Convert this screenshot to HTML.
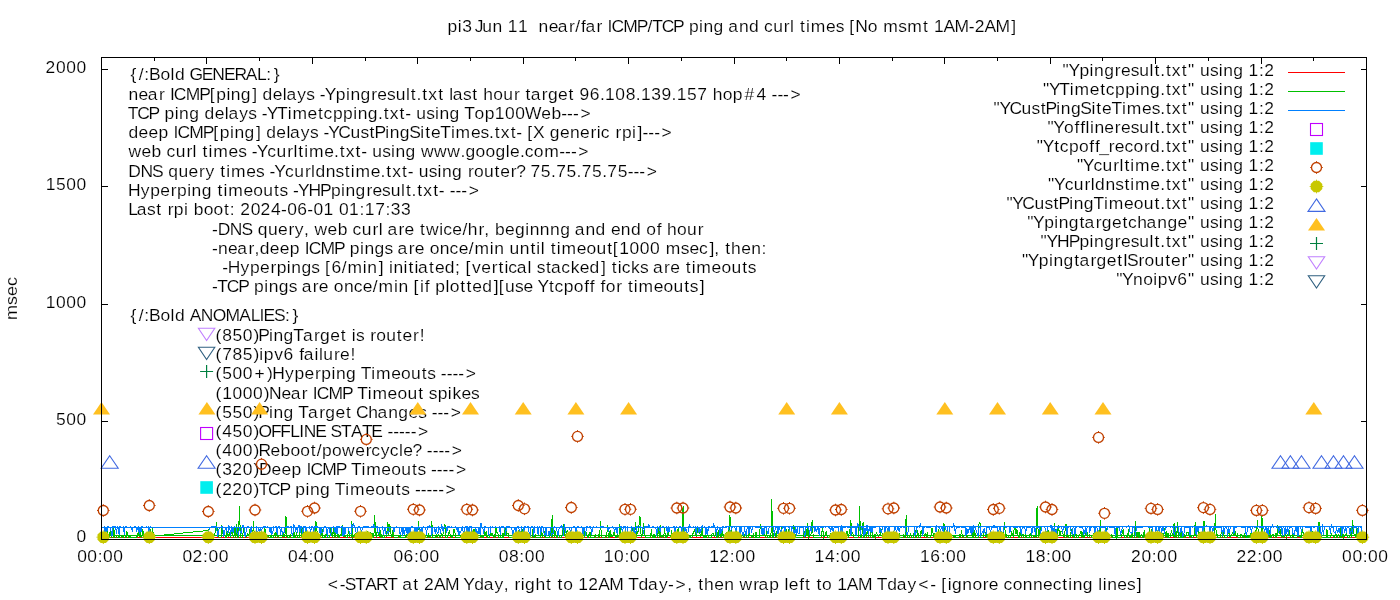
<!DOCTYPE html>
<html><head><meta charset="utf-8"><title>pi3 Jun 11 ping chart</title>
<style>
html,body{margin:0;padding:0;background:#fff;width:1400px;height:600px;overflow:hidden}
svg{display:block;will-change:transform}
text{font-family:"Liberation Sans",sans-serif;font-size:16.8px;fill:#000;white-space:pre;font-kerning:none;stroke:#fff;stroke-width:0.15px}
</style></head><body>
<svg width="1400" height="600" viewBox="0 0 1400 600">
<rect width="1400" height="600" fill="#fff"/>
<g>
<text transform="scale(1.04,1)" x="430.4 440.2 444.5 454.2 456.4 463.8 473.6 483.3 488.3 498.1 507.9 512.9 517.9 527.6 536.4 547.1 553.1 558.6 563.0 573.6 579.5 584.2 588.1 599.3 612.3 622.6 627.1 636.2 647.1 657.3 662.4 672.2 676.4 686.1 695.9 700.2 710.5 720.2 730.0 734.6 743.5 753.7 759.7 763.9 769.3 775.0 779.6 794.2 803.6 811.8 816.7 822.3 834.3 843.8 849.2 863.6 872.3 887.5 893.0 898.0 907.3 917.9 931.6 937.2 946.7 957.3 972.3" y="32.00" fill="#000" >pi3 Jun 11  near/far ICMP/TCP ping and curl times [No msmt 1AM-2AM]</text>
<text transform="translate(17,298.5) rotate(-90)" x="-21.41" y="0" textLength="42.82" lengthAdjust="spacingAndGlyphs">msec</text>
<text transform="scale(1.04,1)" x="315.2 326.6 331.6 341.6 351.1 361.6 372.4 382.4 386.7 397.3 402.9 407.7 417.2 427.8 441.6 445.5 456.0 465.1 475.5 484.3 489.3 494.8 500.8 504.9 514.8 525.1 530.6 536.1 541.5 551.1 556.0 565.7 575.2 585.8 599.6 604.0 614.0 623.2 633.6 642.3 649.5 660.9 665.9 671.4 677.0 686.7 696.4 706.1 711.1 724.2 729.4 739.7 749.3 754.4 758.5 768.5 774.0 779.6 785.0 790.5 800.0 805.0 814.3 824.9 838.7 843.1 853.1 862.3 872.7 883.0 894.4 900.1 905.0 911.3 915.4 925.3 935.0 945.0 950.8 960.4 965.0 973.7 983.4 993.2 1002.9 1012.2 1021.5 1027.2 1031.4 1041.1 1050.9 1056.0 1060.3 1064.6 1074.2 1083.6 1093.0" y="590.00" fill="#000" >&lt;-START at 2AM Yday, right to 12AM Tday-&gt;, then wrap left to 1AM Tday&lt;- [ignore connecting lines]</text>
<text transform="scale(1.04,1)" x="73.5" y="542.33" fill="#000" >0</text>
<text transform="scale(1.04,1)" x="53.8 63.7 73.5" y="425.00" fill="#000" >500</text>
<text transform="scale(1.04,1)" x="43.9 53.8 63.7 73.5" y="307.67" fill="#000" >1000</text>
<text transform="scale(1.04,1)" x="43.9 53.8 63.7 73.5" y="190.33" fill="#000" >1500</text>
<text transform="scale(1.04,1)" x="43.8 53.8 63.7 73.5" y="73.00" fill="#000" >2000</text>
<text transform="scale(1.04,1)" x="74.2 84.0 93.9 99.1 108.9" y="562.00" fill="#000" >00:00</text>
<text transform="scale(1.04,1)" x="175.5 185.2 195.3 200.4 210.3" y="562.00" fill="#000" >02:00</text>
<text transform="scale(1.04,1)" x="276.9 286.7 296.6 301.8 311.7" y="562.00" fill="#000" >04:00</text>
<text transform="scale(1.04,1)" x="378.3 388.1 398.0 403.2 413.0" y="562.00" fill="#000" >06:00</text>
<text transform="scale(1.04,1)" x="479.6 489.5 499.4 504.5 514.4" y="562.00" fill="#000" >08:00</text>
<text transform="scale(1.04,1)" x="580.6 590.5 600.4 605.6 615.4" y="562.00" fill="#000" >10:00</text>
<text transform="scale(1.04,1)" x="681.9 691.7 701.7 706.9 716.8" y="562.00" fill="#000" >12:00</text>
<text transform="scale(1.04,1)" x="783.3 793.2 803.1 808.3 818.1" y="562.00" fill="#000" >14:00</text>
<text transform="scale(1.04,1)" x="884.6 894.6 904.5 909.6 919.5" y="562.00" fill="#000" >16:00</text>
<text transform="scale(1.04,1)" x="986.0 995.9 1005.8 1011.0 1020.8" y="562.00" fill="#000" >18:00</text>
<text transform="scale(1.04,1)" x="1087.5 1097.6 1107.5 1112.6 1122.5" y="562.00" fill="#000" >20:00</text>
<text transform="scale(1.04,1)" x="1188.9 1198.7 1208.8 1214.0 1223.9" y="562.00" fill="#000" >22:00</text>
<text transform="scale(1.04,1)" x="1290.5 1300.4 1310.3 1315.4 1325.3" y="562.00" fill="#000" >00:00</text>
<text transform="scale(1.04,1)" x="125.5 133.5 138.7 143.3 154.3 164.0 168.2 178.0 182.2 194.0 204.2 215.3 225.4 236.3 247.2 256.1 263.2" y="79.80" fill="#000" >{/:Bold GENERAL:}</text>
<text transform="scale(1.04,1)" x="123.6 133.3 142.1 152.8 158.7 163.4 167.2 178.5 191.5 201.6 207.9 217.7 221.9 231.6 242.6 247.5 252.4 262.2 271.9 275.4 285.8 294.5 302.7 307.5 312.2 322.9 332.7 336.9 346.6 357.0 362.8 372.1 380.5 390.4 395.0 400.6 406.0 411.8 421.3 426.8 431.9 435.4 445.3 454.1 459.6 464.7 474.3 483.9 494.2 500.0 505.4 510.3 521.0 526.9 536.6 546.7 552.3 557.2 567.1 576.9 581.8 591.7 601.6 611.3 616.3 626.2 636.0 645.8 650.7 660.6 670.5 680.2 685.3 694.9 704.6 715.9 727.3 737.1 741.9 747.5 753.0 760.2" y="99.80" fill="#000" >near ICMP[ping] delays -Ypingresult.txt last hour target 96.108.139.157 hop#4 ---&gt;</text>
<text transform="scale(1.04,1)" x="122.9 132.0 142.9 153.1 158.2 168.0 172.2 181.9 191.7 196.7 206.5 216.2 219.7 230.0 238.8 247.0 251.8 256.5 266.4 276.6 281.2 295.8 305.9 311.1 320.1 329.9 339.7 344.0 353.7 363.5 368.9 374.7 384.2 389.6 395.3 400.3 409.8 418.2 422.5 432.2 442.0 446.4 456.3 466.0 475.7 485.6 495.5 504.8 520.5 530.2 539.7 545.3 550.9 558.1" y="119.00" fill="#000" >TCP ping delays -YTimetcpping.txt- using Top100Web---&gt;</text>
<text transform="scale(1.04,1)" x="123.5 133.3 142.8 152.5 162.2 166.9 170.8 182.0 195.0 205.1 211.4 221.2 225.4 235.1 246.1 251.0 255.9 265.7 275.4 278.9 289.3 298.0 306.3 311.0 315.7 325.3 337.1 346.6 355.4 360.1 370.5 374.7 384.4 393.5 404.2 408.9 414.4 423.4 433.6 438.1 452.8 462.1 470.3 475.8 481.5 491.0 496.4 502.2 507.0 512.6 523.7 528.6 538.4 548.1 557.8 567.8 573.8 577.7 586.5 591.9 598.0 607.8 613.1 617.8 623.4 629.0 636.1" y="138.20" fill="#000" >deep ICMP[ping] delays -YCustPingSiteTimes.txt- [X generic rpi]---&gt;</text>
<text transform="scale(1.04,1)" x="123.6 136.1 145.8 155.5 160.1 169.0 179.3 185.2 189.4 194.8 200.5 205.1 219.7 229.1 237.3 242.1 246.8 257.0 265.9 276.1 282.1 286.8 292.5 297.1 311.7 321.2 326.7 332.4 341.9 347.3 353.0 358.0 367.6 376.0 380.3 390.0 399.8 404.8 417.4 430.1 442.7 447.6 457.3 466.8 476.4 486.3 490.4 500.0 504.6 513.3 523.3 537.8 543.4 549.0 556.1" y="157.40" fill="#000" >web curl times -Ycurltime.txt- using www.google.com---&gt;</text>
<text transform="scale(1.04,1)" x="123.2 135.0 146.2 156.8 161.7 171.6 181.3 191.4 197.5 206.4 211.8 217.5 222.1 236.7 246.1 254.3 259.1 263.8 274.0 282.9 293.2 299.1 303.3 313.2 322.7 331.5 337.2 341.8 356.4 365.9 371.4 377.1 386.6 392.0 397.7 402.7 412.3 420.7 425.0 434.7 444.5 449.9 455.7 465.3 475.6 481.1 491.2 496.3 505.2 510.2 520.0 529.8 534.8 544.6 554.4 559.4 569.2 579.0 584.0 593.9 603.5 609.1 614.7 621.8" y="176.60" fill="#000" >DNS query times -Ycurldnstime.txt- using router? 75.75.75.75---&gt;</text>
<text transform="scale(1.04,1)" x="123.1 135.4 144.5 154.1 164.2 170.2 180.0 184.2 193.9 203.7 209.2 214.9 219.5 234.1 243.6 253.2 263.4 268.8 277.0 281.8 286.5 296.6 307.8 318.2 328.0 332.2 341.9 352.3 358.1 367.4 375.7 385.6 390.3 395.8 401.3 407.0 416.5 421.9 427.6 432.4 438.0 443.6 450.7" y="195.80" fill="#000" >Hyperping timeouts -YHPpingresult.txt- ---&gt;</text>
<text transform="scale(1.04,1)" x="123.3 131.4 141.4 150.2 155.7 161.2 167.2 177.0 181.1 186.2 195.8 205.3 215.3 221.0 226.1 230.9 241.0 250.6 260.7 270.3 276.1 285.9 295.5 301.4 311.1 321.0 326.0 335.7 345.7 350.8 360.7 370.6 375.8 385.7" y="215.00" fill="#000" >Last rpi boot: 2024-06-01 01:17:33</text>
<text transform="scale(1.04,1)" x="203.8 209.3 221.0 232.3 242.9 247.8 257.7 267.4 277.5 283.5 292.3 297.4 302.4 314.9 324.7 334.3 339.0 347.8 358.1 364.1 368.2 372.5 383.1 389.0 398.5 403.9 409.6 422.3 426.2 434.9 444.6 449.8 460.0 465.7 470.8 475.9 485.5 495.1 505.0 509.3 519.1 528.9 538.6 548.4 552.7 562.9 572.6 582.5 587.4 597.0 606.7 616.5 621.4 631.4 636.4 641.4 651.0 660.6 670.9" y="234.80" fill="#000" >-DNS query, web curl are twice/hr, beginnng and end of hour</text>
<text transform="scale(1.04,1)" x="203.8 209.7 219.3 228.2 238.9 244.6 249.7 259.4 269.0 278.7 288.3 293.1 296.9 308.2 321.1 331.3 336.4 346.2 350.5 360.2 369.8 378.1 382.3 393.0 398.8 408.3 413.2 422.9 432.3 441.0 450.7 456.2 471.0 475.3 485.0 489.9 499.8 510.0 515.7 520.0 524.2 529.6 535.3 539.9 554.5 564.0 573.6 583.9 589.3 595.5 605.4 615.2 625.1 634.8 640.2 654.6 662.9 672.1 682.1 686.8 691.9 697.3 703.0 712.7 722.3 732.2" y="254.00" fill="#000" >-near,deep ICMP pings are once/min until timeout[1000 msec], then:</text>
<text transform="scale(1.04,1)" x="213.6 219.0 231.2 240.3 250.0 260.0 266.0 275.8 280.1 289.8 299.4 307.7 312.5 318.7 328.6 334.1 348.9 353.2 364.1 368.9 374.0 378.3 388.1 392.8 398.5 402.0 412.6 418.2 427.7 437.4 442.7 447.6 453.9 462.8 472.9 479.3 485.0 488.8 496.9 507.3 511.4 516.1 524.9 529.8 539.7 548.7 557.4 566.9 577.9 582.8 588.2 593.9 597.8 606.8 615.4 623.6 627.9 638.5 644.4 653.9 659.3 665.1 669.6 684.2 693.7 703.3 713.6 718.9" y="273.20" fill="#000" >-Hyperpings [6/min] initiated; [vertical stacked] ticks are timeouts</text>
<text transform="scale(1.04,1)" x="203.8 209.0 218.1 229.0 239.1 244.2 254.0 258.3 268.0 277.6 285.9 290.1 300.8 306.6 316.2 321.0 330.7 340.1 348.9 358.5 364.0 378.9 383.1 392.8 397.7 403.9 408.5 413.5 418.6 428.4 432.5 442.5 448.6 454.1 463.7 474.7 479.5 485.6 495.2 503.4 513.0 516.9 527.9 533.1 542.1 551.7 561.7 567.1 572.1 577.5 582.4 592.5 598.3 603.8 609.5 614.0 628.7 638.1 647.7 658.0 663.3 672.8" y="292.40" fill="#000" >-TCP pings are once/min [if plotted][use Ytcpoff for timeouts]</text>
<text transform="scale(1.04,1)" x="125.5 133.5 138.7 143.3 154.3 164.0 168.2 178.0 182.4 193.0 204.5 216.8 230.1 241.0 249.6 253.4 263.4 274.1 281.2" y="321.20" fill="#000" >{/:Bold ANOMALIES:}</text>
<text transform="scale(1.04,1)" x="207.3 213.8 223.5 233.5 243.7 248.4 258.7 263.0 272.7 282.0 291.3 302.0 307.8 317.6 327.7 333.2 338.3 342.2 350.5 355.9 361.7 371.3 381.6 387.1 397.2 403.7" y="341.00" fill="#000" >(850)PingTarget is router!</text>
<text transform="scale(1.04,1)" x="207.3 213.7 223.6 233.4 243.7 249.4 253.7 263.6 272.6 282.4 287.7 292.1 302.4 306.7 310.9 321.2 327.0 337.1" y="360.20" fill="#000" >(785)ipv6 failure!</text>
<text transform="scale(1.04,1)" x="207.3 213.7 223.6 233.5 244.6 256.7 261.8 274.1 283.2 292.8 302.9 308.9 318.7 323.0 332.7 342.5 346.8 357.0 361.6 376.2 385.7 395.3 405.5 410.9 419.1 423.9 429.5 435.1 440.7 447.8" y="379.40" fill="#000" >(500+)Hyperping Timeouts ----&gt;</text>
<text transform="scale(1.04,1)" x="207.3 213.7 223.6 233.5 243.3 253.6 258.6 270.6 279.5 290.2 296.0 300.8 304.6 315.8 328.8 339.0 343.4 353.5 358.1 372.7 382.2 391.8 402.1 407.6 412.3 420.8 430.6 435.0 443.7 453.0" y="398.60" fill="#000" >(1000)Near ICMP Timeout spikes</text>
<text transform="scale(1.04,1)" x="207.3 213.7 223.5 233.5 243.7 248.4 258.7 263.0 272.7 282.5 286.9 296.2 306.9 312.7 322.5 332.6 338.1 342.2 354.0 363.0 373.3 383.0 392.8 402.1 410.4 415.2 420.7 426.3 433.5" y="417.80" fill="#000" >(550)Ping Target Changes ---&gt;</text>
<text transform="scale(1.04,1)" x="207.3 213.8 223.5 233.5 243.7 248.6 260.5 269.4 279.0 287.7 292.0 303.1 313.8 317.9 328.0 337.5 348.0 357.1 367.8 372.6 378.1 383.7 389.3 394.9 402.0" y="437.00" fill="#000" >(450)OFFLINE STATE -----&gt;</text>
<text transform="scale(1.04,1)" x="207.3 213.8 223.6 233.5 243.7 248.6 260.0 269.7 279.3 288.7 298.8 304.5 309.7 319.3 328.9 341.5 351.6 357.1 366.1 374.8 383.7 387.8 396.7 405.6 410.4 416.0 421.6 427.1 434.3" y="456.20" fill="#000" >(400)Reboot/powercycle? ----&gt;</text>
<text transform="scale(1.04,1)" x="207.3 213.8 223.4 233.5 243.7 249.0 261.1 270.6 280.4 290.0 294.8 298.6 309.8 322.8 333.0 337.4 347.5 352.1 366.7 376.2 385.8 396.1 401.4 409.7 414.5 420.0 425.6 431.2 438.4" y="475.40" fill="#000" >(320)Deep ICMP Timeouts ----&gt;</text>
<text transform="scale(1.04,1)" x="207.3 213.6 223.4 233.5 243.7 248.7 257.8 268.7 278.8 283.9 293.7 298.0 307.7 317.5 321.9 332.0 336.6 351.2 360.7 370.3 380.6 385.9 394.2 399.0 404.6 410.1 415.7 421.3 428.4" y="494.60" fill="#000" >(220)TCP ping Timeouts -----&gt;</text>
<text transform="scale(1.04,1)" x="1021.6 1027.3 1037.9 1047.7 1052.0 1061.7 1072.0 1077.8 1087.2 1095.5 1105.4 1110.1 1115.6 1121.1 1126.8 1136.3 1142.3 1148.9 1153.9 1163.5 1171.9 1176.2 1185.9 1195.7 1200.6 1210.6 1215.6" y="76.00" fill="#000" >&quot;Ypingresult.txt&quot; using 1:2</text>
<text transform="scale(1.04,1)" x="1003.0 1008.6 1018.6 1028.7 1033.3 1047.9 1058.0 1063.2 1072.2 1082.0 1091.8 1096.1 1105.8 1115.6 1121.1 1126.8 1136.3 1142.3 1148.9 1153.9 1163.5 1171.9 1176.2 1185.9 1195.7 1200.6 1210.6 1215.6" y="95.00" fill="#000" >&quot;YTimetcpping.txt&quot; using 1:2</text>
<text transform="scale(1.04,1)" x="955.3 961.0 970.6 982.3 991.9 1000.7 1005.4 1015.7 1020.0 1029.7 1038.7 1049.5 1054.1 1059.7 1068.7 1078.8 1083.4 1098.0 1107.4 1115.6 1121.1 1126.8 1136.3 1142.3 1148.9 1153.9 1163.5 1171.9 1176.2 1185.9 1195.7 1200.6 1210.6 1215.6" y="114.00" fill="#000" >&quot;YCustPingSiteTimes.txt&quot; using 1:2</text>
<text transform="scale(1.04,1)" x="1007.1 1012.7 1023.1 1033.1 1038.6 1043.7 1048.0 1052.3 1061.9 1072.0 1077.8 1087.2 1095.5 1105.4 1110.1 1115.6 1121.1 1126.8 1136.3 1142.3 1148.9 1153.9 1163.5 1171.9 1176.2 1185.9 1195.7 1200.6 1210.6 1215.6" y="133.00" fill="#000" >&quot;Yofflineresult.txt&quot; using 1:2</text>
<text transform="scale(1.04,1)" x="996.9 1002.6 1013.6 1018.9 1027.8 1037.4 1047.4 1052.8 1056.9 1066.1 1071.9 1081.2 1089.9 1100.0 1105.8 1115.6 1121.1 1126.8 1136.3 1142.3 1148.9 1153.9 1163.5 1171.9 1176.2 1185.9 1195.7 1200.6 1210.6 1215.6" y="152.00" fill="#000" >&quot;Ytcpoff_record.txt&quot; using 1:2</text>
<text transform="scale(1.04,1)" x="1035.5 1041.2 1051.4 1060.2 1070.5 1076.5 1081.2 1086.9 1091.4 1106.1 1115.6 1121.1 1126.8 1136.3 1142.3 1148.9 1153.9 1163.5 1171.9 1176.2 1185.9 1195.7 1200.6 1210.6 1215.6" y="171.00" fill="#000" >&quot;Ycurltime.txt&quot; using 1:2</text>
<text transform="scale(1.04,1)" x="1007.8 1013.5 1023.7 1032.5 1042.8 1048.8 1053.0 1062.9 1072.4 1081.2 1086.9 1091.4 1106.1 1115.6 1121.1 1126.8 1136.3 1142.3 1148.9 1153.9 1163.5 1171.9 1176.2 1185.9 1195.7 1200.6 1210.6 1215.6" y="190.00" fill="#000" >&quot;Ycurldnstime.txt&quot; using 1:2</text>
<text transform="scale(1.04,1)" x="967.8 973.4 983.0 994.8 1004.3 1013.1 1017.8 1028.1 1032.4 1042.1 1051.4 1061.5 1066.1 1080.7 1090.2 1099.8 1110.1 1115.6 1121.1 1126.8 1136.3 1142.3 1148.9 1153.9 1163.5 1171.9 1176.2 1185.9 1195.7 1200.6 1210.6 1215.6" y="209.00" fill="#000" >&quot;YCustPingTimeout.txt&quot; using 1:2</text>
<text transform="scale(1.04,1)" x="987.7 993.3 1004.0 1013.8 1018.0 1027.7 1038.1 1042.9 1053.6 1059.5 1069.3 1079.3 1084.6 1093.5 1102.5 1112.8 1122.5 1132.3 1142.3 1148.9 1153.9 1163.5 1171.9 1176.2 1185.9 1195.7 1200.6 1210.6 1215.6" y="228.00" fill="#000" >&quot;Ypingtargetchange&quot; using 1:2</text>
<text transform="scale(1.04,1)" x="1000.6 1006.3 1016.4 1027.6 1037.9 1047.7 1052.0 1061.7 1072.0 1077.8 1087.2 1095.5 1105.4 1110.1 1115.6 1121.1 1126.8 1136.3 1142.3 1148.9 1153.9 1163.5 1171.9 1176.2 1185.9 1195.7 1200.6 1210.6 1215.6" y="247.00" fill="#000" >&quot;YHPpingresult.txt&quot; using 1:2</text>
<text transform="scale(1.04,1)" x="982.6 988.3 998.9 1008.7 1013.0 1022.7 1033.0 1037.9 1048.6 1054.4 1064.2 1074.3 1079.7 1083.7 1094.8 1100.5 1110.1 1120.4 1125.9 1136.0 1142.3 1148.9 1153.9 1163.5 1171.9 1176.2 1185.9 1195.7 1200.6 1210.6 1215.6" y="266.00" fill="#000" >&quot;YpingtargetISrouter&quot; using 1:2</text>
<text transform="scale(1.04,1)" x="1073.3 1078.9 1089.5 1099.2 1108.9 1113.2 1123.1 1132.1 1142.3 1148.9 1153.9 1163.5 1171.9 1176.2 1185.9 1195.7 1200.6 1210.6 1215.6" y="285.00" fill="#000" >&quot;Ynoipv6&quot; using 1:2</text>
</g>
<path d="M101.5 538.5h6M1366.5 538.5h-6M101.5 421.5h6M1366.5 421.5h-6M101.5 304.5h6M1366.5 304.5h-6M101.5 186.5h6M1366.5 186.5h-6M101.5 69.5h6M1366.5 69.5h-6M101.5 57.5v6M101.5 539.5v-6M154.5 57.5v3M154.5 539.5v-3M206.5 57.5v6M206.5 539.5v-6M259.5 57.5v3M259.5 539.5v-3M312.5 57.5v6M312.5 539.5v-6M365.5 57.5v3M365.5 539.5v-3M417.5 57.5v6M417.5 539.5v-6M470.5 57.5v3M470.5 539.5v-3M523.5 57.5v6M523.5 539.5v-6M575.5 57.5v3M575.5 539.5v-3M628.5 57.5v6M628.5 539.5v-6M681.5 57.5v3M681.5 539.5v-3M734.5 57.5v6M734.5 539.5v-6M786.5 57.5v3M786.5 539.5v-3M839.5 57.5v6M839.5 539.5v-6M892.5 57.5v3M892.5 539.5v-3M944.5 57.5v6M944.5 539.5v-6M997.5 57.5v3M997.5 539.5v-3M1050.5 57.5v6M1050.5 539.5v-6M1102.5 57.5v3M1102.5 539.5v-3M1155.5 57.5v6M1155.5 539.5v-6M1208.5 57.5v3M1208.5 539.5v-3M1261.5 57.5v6M1261.5 539.5v-6M1313.5 57.5v3M1313.5 539.5v-3M1366.5 57.5v6M1366.5 539.5v-6" stroke="#000" stroke-width="1" shape-rendering="crispEdges"/>
<g>
<polyline points="101.5,537.5 1363.5,537.5" fill="none" stroke="#ff0000" stroke-width="1"/>
<polyline points="206.92,537.5 207.80,537.5 208.67,529.3 209.55,537.5 210.43,537.5 211.31,534.1 212.19,537.5 213.07,537.5 213.94,534.2 214.82,534.9 215.70,528.0 216.58,522.0 217.46,534.1 218.34,534.3 219.22,537.5 220.09,537.5 220.97,537.5 221.85,525.4 222.73,533.5 223.61,532.7 224.49,534.2 225.36,537.5 226.24,537.5 227.12,531.0 228.00,534.4 228.88,536.3 229.76,532.3 230.64,537.5 231.51,528.8 232.39,530.8 233.27,537.5 234.15,535.6 235.03,527.7 235.91,537.5 236.78,524.5 237.66,537.5 238.54,537.5 239.42,506.5 240.30,534.1 241.18,537.5 242.06,537.5 242.93,533.8 243.81,525.0 244.69,532.1 245.57,537.5 246.45,536.5 247.33,533.7 248.20,534.8 249.08,535.2 249.96,528.7 250.84,536.3 251.72,533.8 252.60,537.5 253.48,520.9 254.35,537.5 255.23,537.5 256.11,535.6 256.99,537.5 257.87,537.5 258.75,534.2 259.62,536.7 260.50,537.5 261.38,535.1 262.26,533.2 263.14,537.5 264.02,537.5 264.90,527.7 265.77,537.5 266.65,537.5 267.53,537.5 268.41,535.6 269.29,537.5 270.17,537.5 271.05,534.8 271.92,537.5 272.80,537.5 273.68,537.5 274.56,534.3 275.44,537.5 276.32,529.5 277.19,537.5 278.07,536.3 278.95,536.7 279.83,537.5 280.71,537.5 281.59,537.5 282.47,535.8 283.34,533.8 284.22,537.5 285.10,533.6 285.98,516.5 286.86,536.2 287.74,537.5 288.61,537.5 289.49,537.5 290.37,535.4 291.25,537.5 292.13,537.5 293.01,537.5 293.89,531.6 294.76,537.2 295.64,537.5 296.52,534.3 297.40,537.5 298.28,537.5 299.16,537.5 300.03,531.9 300.91,528.0 301.79,537.5 302.67,527.7 303.55,537.5 304.43,537.5 305.31,528.9 306.18,537.5 307.06,537.5 307.94,537.5 308.82,536.7 309.70,537.5 310.58,537.5 311.45,537.5 312.33,537.5 313.21,537.5 314.09,537.5 314.97,534.9 315.85,521.2 316.73,528.1 317.60,535.7 318.48,535.1 319.36,536.6 320.24,537.5 321.12,535.9 322.00,528.5 322.88,537.5 323.75,537.5 324.63,537.0 325.51,537.5 326.39,531.4 327.27,537.5 328.15,537.5 329.02,537.5 329.90,537.5 330.78,528.3 331.66,533.7 332.54,537.5 333.42,528.1 334.30,537.5 335.17,529.4 336.05,537.5 336.93,537.5 337.81,533.7 338.69,537.5 339.57,537.5 340.44,534.1 341.32,534.5 342.20,525.4 343.08,532.9 343.96,537.2 344.84,534.1 345.72,536.9 346.59,537.5 347.47,537.5 348.35,532.1 349.23,534.0 350.11,537.5 350.99,537.5 351.86,520.9 352.74,537.5 353.62,536.2 354.50,536.1 355.38,533.0 356.26,537.5 357.14,537.5 358.01,533.0 358.89,537.5 359.77,537.5 360.65,535.2 361.53,537.5 362.41,537.5 363.28,537.5 364.16,534.2 365.04,537.4 365.92,537.5 366.80,536.0 367.68,531.3 368.56,536.4 369.43,537.5 370.31,532.9 371.19,534.3 372.07,533.6 372.95,537.5 373.83,537.5 374.70,515.5 375.58,534.5 376.46,537.5 377.34,529.0 378.22,533.6 379.10,536.7 379.98,529.5 380.85,537.5 381.73,534.7 382.61,537.5 383.49,537.5 384.37,537.5 385.25,535.1 386.12,536.4 387.00,530.9 387.88,522.5 388.76,536.1 389.64,523.7 390.52,528.5 391.40,537.5 392.27,536.4 393.15,529.1 394.03,537.5 394.91,537.5 395.79,537.5 396.67,537.5 397.55,537.5 398.42,536.5 399.30,537.5 400.18,536.5 401.06,537.5 401.94,537.5 402.82,537.5 403.69,537.2 404.57,537.5 405.45,537.5 406.33,534.8 407.21,537.5 408.09,537.5 408.97,535.3 409.84,537.5 410.72,537.5 411.60,537.5 412.48,535.0 413.36,535.8 414.24,532.3 415.11,537.5 415.99,537.5 416.87,537.5 417.75,534.4 418.63,520.9 419.51,535.5 420.39,531.1 421.26,529.4 422.14,537.5 423.02,537.5 423.90,537.5 424.78,536.2 425.66,536.6 426.53,537.5 427.41,537.5 428.29,533.5 429.17,537.5 430.05,536.1 430.93,537.3 431.81,521.4 432.68,537.5 433.56,537.5 434.44,537.5 435.32,537.5 436.20,534.4 437.08,537.5 437.95,536.2 438.83,534.1 439.71,537.5 440.59,537.5 441.47,533.1 442.35,537.5 443.23,533.0 444.10,528.9 444.98,524.4 445.86,537.5 446.74,537.5 447.62,537.5 448.50,533.6 449.38,531.5 450.25,535.5 451.13,537.5 452.01,536.5 452.89,537.5 453.77,529.6 454.65,529.6 455.52,537.5 456.40,537.5 457.28,537.5 458.16,537.5 459.04,537.5 459.92,537.5 460.80,535.7 461.67,537.5 462.55,537.5 463.43,537.5 464.31,528.3 465.19,535.7 466.07,537.2 466.94,537.5 467.82,535.6 468.70,537.5 469.58,537.5 470.46,537.5 471.34,537.5 472.22,531.3 473.09,537.5 473.97,528.6 474.85,535.8 475.73,530.0 476.61,531.8 477.49,537.5 478.36,537.5 479.24,537.5 480.12,537.5 481.00,536.7 481.88,536.0 482.76,537.5 483.64,537.5 484.51,531.5 485.39,535.7 486.27,531.0 487.15,537.5 488.03,537.5 488.91,537.5 489.78,537.5 490.66,531.8 491.54,535.3 492.42,533.9 493.30,537.5 494.18,534.9 495.06,537.5 495.93,528.0 496.81,532.3 497.69,532.3 498.57,537.5 499.45,537.5 500.33,536.8 501.20,537.5 502.08,537.5 502.96,533.0 503.84,537.5 504.72,529.3 505.60,527.6 506.48,534.4 507.35,533.6 508.23,533.9 509.11,537.5 509.99,537.5 510.87,537.5 511.75,537.5 512.62,537.5 513.50,537.5 514.38,536.0 515.26,536.9 516.14,537.5 517.02,537.5 517.90,534.9 518.77,529.8 519.65,537.5 520.53,537.5 521.41,530.4 522.29,529.7 523.17,533.8 524.05,537.5 524.92,537.5 525.80,537.5 526.68,537.5 527.56,536.1 528.44,537.5 529.32,537.5 530.19,537.5 531.07,537.5 531.95,537.5 532.83,528.6 533.71,537.5 534.59,537.5 535.47,535.2 536.34,537.5 537.22,537.5 538.10,537.5 538.98,537.5 539.86,537.5 540.74,537.2 541.61,529.7 542.49,537.5 543.37,535.3 544.25,536.1 545.13,530.6 546.01,537.5 546.89,537.5 547.76,537.5 548.64,537.5 549.52,537.5 550.40,530.9 551.28,537.5 552.16,515.5 553.03,537.5 553.91,537.5 554.79,530.0 555.67,534.6 556.55,537.5 557.43,537.5 558.31,530.4 559.18,535.8 560.06,537.5 560.94,537.5 561.82,537.5 562.70,529.6 563.58,524.3 564.45,535.6 565.33,534.9 566.21,537.5 567.09,530.3 567.97,531.9 568.85,535.2 569.73,534.5 570.60,537.5 571.48,537.5 572.36,533.2 573.24,537.5 574.12,537.5 575.00,537.5 575.88,535.3 576.75,537.4 577.63,536.2 578.51,537.5 579.39,536.0 580.27,537.5 581.15,537.5 582.02,537.5 582.90,534.3 583.78,529.4 584.66,537.5 585.54,532.3 586.42,532.8 587.30,537.5 588.17,537.5 589.05,534.4 589.93,531.9 590.81,537.3 591.69,537.4 592.57,537.5 593.44,537.5 594.32,537.3 595.20,534.8 596.08,537.5 596.96,537.5 597.84,537.5 598.72,534.8 599.59,537.5 600.47,521.5 601.35,534.9 602.23,537.5 603.11,537.5 603.99,537.5 604.86,537.5 605.74,535.7 606.62,537.5 607.50,525.4 608.38,537.5 609.26,537.5 610.14,530.5 611.01,536.6 611.89,534.6 612.77,536.7 613.65,532.7 614.53,531.4 615.41,537.5 616.28,537.5 617.16,534.5 618.04,537.5 618.92,536.6 619.80,523.9 620.68,537.5 621.56,537.5 622.43,537.1 623.31,535.8 624.19,537.5 625.07,537.5 625.95,536.7 626.83,537.5 627.70,531.0 628.58,534.3 629.46,534.0 630.34,537.5 631.22,532.7 632.10,528.7 632.98,530.3 633.85,537.5 634.73,533.2 635.61,521.7 636.49,537.5 637.37,531.8 638.25,531.9 639.12,523.9 640.00,516.5 640.88,533.0 641.76,537.5 642.64,530.0 643.52,522.8 644.40,533.5 645.27,537.5 646.15,537.5 647.03,537.5 647.91,537.5 648.79,537.5 649.67,537.5 650.55,537.5 651.42,528.8 652.30,537.5 653.18,537.5 654.06,534.0 654.94,537.5 655.82,537.5 656.69,532.8 657.57,537.5 658.45,528.0 659.33,537.5 660.21,524.8 661.09,537.5 661.97,535.2 662.84,536.9 663.72,537.2 664.60,528.5 665.48,537.5 666.36,537.5 667.24,536.3 668.11,531.9 668.99,535.9 669.87,535.1 670.75,536.8 671.63,531.8 672.51,533.8 673.39,537.5 674.26,537.5 675.14,537.5 676.02,537.5 676.90,537.5 677.78,529.1 678.66,527.5 679.53,537.5 680.41,536.5 681.29,537.5 682.17,537.5 683.05,506.5 683.93,537.5 684.81,533.9 685.68,537.5 686.56,537.5 687.44,537.5 688.32,537.5 689.20,537.5 690.08,534.9 690.95,537.5 691.83,537.5 692.71,533.5 693.59,533.6 694.47,528.7 695.35,533.9 696.23,536.7 697.10,532.2 697.98,527.5 698.86,527.8 699.74,533.5 700.62,535.9 701.50,533.8 702.38,528.0 703.25,537.5 704.13,537.5 705.01,535.1 705.89,537.5 706.77,536.5 707.65,532.6 708.52,537.5 709.40,537.5 710.28,537.5 711.16,537.5 712.04,533.8 712.92,533.5 713.80,534.5 714.67,536.5 715.55,533.8 716.43,537.5 717.31,537.5 718.19,530.3 719.07,537.5 719.94,537.5 720.82,528.7 721.70,537.5 722.58,530.0 723.46,537.5 724.34,537.5 725.22,537.5 726.09,532.3 726.97,537.5 727.85,537.2 728.73,537.5 729.61,515.5 730.49,520.0 731.36,532.6 732.24,537.5 733.12,537.5 734.00,537.5 734.88,537.5 735.76,531.7 736.64,531.4 737.51,537.5 738.39,537.5 739.27,537.5 740.15,527.6 741.03,534.8 741.91,537.5 742.78,537.5 743.66,534.2 744.54,537.5 745.42,532.0 746.30,537.5 747.18,537.5 748.06,537.2 748.93,530.2 749.81,534.9 750.69,535.6 751.57,537.5 752.45,537.0 753.33,534.1 754.20,537.5 755.08,537.5 755.96,531.9 756.84,537.5 757.72,537.5 758.60,537.5 759.48,537.5 760.35,524.0 761.23,527.9 762.11,533.0 762.99,528.3 763.87,533.4 764.75,535.6 765.62,537.5 766.50,531.1 767.38,537.5 768.26,537.5 769.14,537.5 770.02,534.7 770.90,537.5 771.77,499.5 772.65,537.5 773.53,537.5 774.41,530.3 775.29,537.5 776.17,531.5 777.05,537.1 777.92,537.5 778.80,537.5 779.68,537.5 780.56,536.0 781.44,527.5 782.32,537.5 783.19,537.5 784.07,537.5 784.95,537.5 785.83,527.8 786.71,534.8 787.59,537.5 788.47,528.7 789.34,534.6 790.22,535.7 791.10,533.9 791.98,536.1 792.86,537.5 793.74,524.6 794.61,532.2 795.49,537.2 796.37,537.5 797.25,537.4 798.13,537.5 799.01,537.4 799.89,537.5 800.76,537.1 801.64,537.5 802.52,537.5 803.40,536.7 804.28,531.4 805.16,537.5 806.03,529.2 806.91,536.4 807.79,522.8 808.67,537.5 809.55,535.7 810.43,534.3 811.31,533.7 812.18,519.6 813.06,534.2 813.94,537.5 814.82,537.5 815.70,537.5 816.58,537.5 817.45,537.5 818.33,537.3 819.21,537.5 820.09,537.5 820.97,537.5 821.85,532.2 822.73,528.4 823.60,537.5 824.48,535.6 825.36,534.3 826.24,531.1 827.12,535.8 828.00,537.5 828.88,537.5 829.75,537.5 830.63,533.8 831.51,534.3 832.39,535.1 833.27,534.5 834.15,537.5 835.02,536.8 835.90,537.5 836.78,537.5 837.66,532.0 838.54,536.7 839.42,537.5 840.30,532.3 841.17,537.3 842.05,530.9 842.93,537.5 843.81,535.5 844.69,537.5 845.57,537.5 846.44,531.2 847.32,532.0 848.20,537.5 849.08,533.7 849.96,529.3 850.84,519.8 851.72,533.9 852.59,532.4 853.47,535.8 854.35,537.5 855.23,537.5 856.11,537.5 856.99,537.5 857.86,537.5 858.74,535.5 859.62,506.5 860.50,537.5 861.38,537.5 862.26,533.2 863.14,521.7 864.01,537.5 864.89,537.5 865.77,529.6 866.65,537.5 867.53,528.8 868.41,535.2 869.28,537.5 870.16,537.5 871.04,530.8 871.92,527.6 872.80,537.5 873.68,537.5 874.56,535.1 875.43,537.5 876.31,532.6 877.19,534.0 878.07,535.9 878.95,536.4 879.83,535.0 880.70,533.1 881.58,529.3 882.46,537.5 883.34,537.5 884.22,537.4 885.10,537.5 885.98,537.5 886.85,535.2 887.73,535.0 888.61,537.4 889.49,537.4 890.37,537.5 891.25,537.5 892.12,537.5 893.00,537.5 893.88,534.4 894.76,537.2 895.64,537.5 896.52,537.5 897.40,533.4 898.27,537.5 899.15,533.3 900.03,537.5 900.91,537.5 901.79,537.5 902.67,537.5 903.55,535.3 904.42,537.5 905.30,537.5 906.18,515.5 907.06,533.5 907.94,537.5 908.82,537.5 909.69,537.5 910.57,533.0 911.45,537.5 912.33,537.5 913.21,537.5 914.09,532.6 914.97,530.0 915.84,537.5 916.72,537.5 917.60,529.7 918.48,537.5 919.36,537.5 920.24,537.5 921.11,530.1 921.99,534.3 922.87,534.5 923.75,532.7 924.63,535.8 925.51,533.8 926.39,537.5 927.26,532.2 928.14,537.5 929.02,537.5 929.90,537.5 930.78,537.5 931.66,528.6 932.53,528.6 933.41,537.5 934.29,534.2 935.17,537.5 936.05,537.5 936.93,537.5 937.81,537.5 938.68,528.8 939.56,537.5 940.44,537.5 941.32,534.4 942.20,537.5 943.08,537.5 943.95,523.0 944.83,537.5 945.71,537.5 946.59,534.1 947.47,535.5 948.35,537.5 949.23,534.9 950.10,537.5 950.98,537.5 951.86,537.5 952.74,537.5 953.62,535.7 954.50,537.5 955.38,537.0 956.25,537.5 957.13,537.1 958.01,537.5 958.89,537.5 959.77,534.9 960.65,536.7 961.52,530.0 962.40,537.5 963.28,536.3 964.16,537.5 965.04,537.5 965.92,537.5 966.80,534.3 967.67,537.5 968.55,537.5 969.43,537.5 970.31,537.5 971.19,537.5 972.07,537.5 972.94,532.1 973.82,537.5 974.70,530.4 975.58,537.5 976.46,537.5 977.34,537.5 978.22,537.5 979.09,522.7 979.97,522.2 980.85,537.5 981.73,537.5 982.61,537.5 983.49,535.9 984.36,530.4 985.24,532.9 986.12,537.5 987.00,533.8 987.88,537.5 988.76,537.5 989.64,534.0 990.51,537.5 991.39,536.2 992.27,533.0 993.15,536.8 994.03,537.5 994.91,537.5 995.78,535.1 996.66,537.5 997.54,535.6 998.42,537.5 999.30,537.5 1000.18,537.0 1001.06,537.5 1001.93,537.5 1002.81,537.5 1003.69,530.2 1004.57,522.5 1005.45,537.5 1006.33,534.0 1007.20,537.5 1008.08,536.8 1008.96,537.5 1009.84,537.5 1010.72,537.5 1011.60,532.2 1012.48,534.3 1013.35,537.5 1014.23,528.2 1015.11,528.0 1015.99,533.6 1016.87,529.4 1017.75,533.7 1018.62,537.5 1019.50,537.5 1020.38,528.4 1021.26,537.5 1022.14,534.6 1023.02,533.8 1023.90,537.5 1024.77,537.5 1025.65,534.5 1026.53,537.5 1027.41,537.5 1028.29,537.5 1029.17,537.5 1030.05,533.6 1030.92,534.8 1031.80,537.5 1032.68,537.5 1033.56,536.3 1034.44,537.5 1035.32,533.8 1036.19,537.5 1037.07,506.5 1037.95,528.6 1038.83,537.5 1039.71,529.1 1040.59,528.0 1041.47,537.5 1042.34,537.0 1043.22,537.5 1044.10,537.5 1044.98,537.5 1045.86,537.5 1046.74,537.5 1047.61,530.9 1048.49,530.9 1049.37,535.7 1050.25,537.5 1051.13,534.9 1052.01,537.5 1052.89,537.5 1053.76,533.3 1054.64,522.8 1055.52,537.5 1056.40,537.5 1057.28,537.5 1058.16,524.7 1059.03,530.6 1059.91,536.4 1060.79,531.8 1061.67,531.1 1062.55,531.1 1063.43,536.8 1064.31,537.5 1065.18,529.0 1066.06,523.9 1066.94,537.5 1067.82,534.7 1068.70,537.5 1069.58,537.5 1070.45,537.5 1071.33,528.9 1072.21,535.3 1073.09,537.5 1073.97,534.7 1074.85,537.5 1075.73,532.1 1076.60,537.5 1077.48,537.5 1078.36,537.5 1079.24,534.8 1080.12,533.7 1081.00,531.4 1081.88,537.5 1082.75,531.9 1083.63,537.5 1084.51,537.5 1085.39,535.2 1086.27,528.4 1087.15,532.6 1088.02,537.5 1088.90,537.5 1089.78,534.6 1090.66,535.6 1091.54,537.5 1092.42,537.5 1093.30,537.5 1094.17,532.3 1095.05,537.5 1095.93,537.0 1096.81,537.3 1097.69,535.4 1098.57,537.5 1099.44,536.1 1100.32,520.4 1101.20,537.5 1102.08,531.6 1102.96,537.5 1103.84,533.8 1104.72,537.5 1105.59,537.5 1106.47,528.3 1107.35,537.5 1108.23,537.5 1109.11,533.8 1109.99,537.5 1110.86,537.5 1111.74,534.9 1112.62,537.5 1113.50,537.5 1114.38,537.5 1115.26,536.4 1116.14,537.5 1117.01,528.1 1117.89,537.5 1118.77,537.5 1119.65,537.5 1120.53,537.5 1121.41,536.3 1122.28,533.3 1123.16,529.3 1124.04,536.1 1124.92,537.5 1125.80,537.1 1126.68,536.6 1127.56,537.5 1128.43,529.5 1129.31,537.5 1130.19,535.9 1131.07,537.5 1131.95,532.0 1132.83,537.0 1133.70,537.5 1134.58,537.5 1135.46,521.4 1136.34,537.5 1137.22,531.6 1138.10,537.5 1138.98,531.6 1139.85,537.5 1140.73,537.3 1141.61,533.9 1142.49,537.5 1143.37,537.5 1144.25,530.1 1145.12,537.5 1146.00,536.6 1146.88,537.5 1147.76,537.2 1148.64,534.6 1149.52,527.9 1150.40,534.3 1151.27,535.1 1152.15,527.9 1153.03,537.5 1153.91,537.5 1154.79,537.5 1155.67,531.4 1156.55,537.5 1157.42,535.3 1158.30,537.5 1159.18,537.5 1160.06,537.5 1160.94,537.5 1161.82,532.2 1162.69,537.5 1163.57,537.5 1164.45,527.9 1165.33,537.5 1166.21,530.9 1167.09,537.5 1167.97,533.0 1168.84,537.2 1169.72,537.5 1170.60,536.2 1171.48,530.4 1172.36,534.7 1173.24,535.8 1174.11,522.7 1174.99,537.5 1175.87,530.2 1176.75,537.5 1177.63,522.5 1178.51,537.5 1179.39,537.5 1180.26,537.5 1181.14,532.4 1182.02,537.5 1182.90,534.8 1183.78,537.5 1184.66,534.7 1185.53,537.5 1186.41,532.2 1187.29,532.0 1188.17,532.0 1189.05,534.7 1189.93,537.2 1190.81,536.4 1191.68,537.5 1192.56,537.5 1193.44,536.4 1194.32,534.4 1195.20,522.4 1196.08,537.5 1196.95,529.7 1197.83,527.7 1198.71,536.2 1199.59,533.6 1200.47,535.5 1201.35,537.5 1202.23,537.5 1203.10,535.0 1203.98,520.9 1204.86,537.5 1205.74,534.0 1206.62,537.5 1207.50,537.5 1208.38,532.2 1209.25,537.5 1210.13,537.5 1211.01,533.7 1211.89,537.5 1212.77,537.5 1213.65,534.5 1214.52,534.2 1215.40,514.5 1216.28,536.2 1217.16,534.2 1218.04,537.5 1218.92,537.5 1219.80,537.5 1220.67,537.5 1221.55,528.6 1222.43,537.5 1223.31,528.0 1224.19,537.1 1225.07,537.2 1225.94,537.5 1226.82,537.5 1227.70,535.3 1228.58,531.7 1229.46,535.1 1230.34,537.4 1231.22,535.4 1232.09,533.7 1232.97,531.8 1233.85,536.3 1234.73,530.1 1235.61,534.5 1236.49,536.1 1237.36,534.3 1238.24,537.5 1239.12,537.5 1240.00,537.5 1240.88,534.9 1241.76,535.0 1242.64,537.5 1243.51,537.5 1244.39,534.4 1245.27,537.5 1246.15,537.5 1247.03,535.6 1247.91,537.5 1248.78,536.3 1249.66,537.5 1250.54,537.5 1251.42,529.6 1252.30,535.5 1253.18,534.8 1254.06,537.5 1254.93,536.2 1255.81,530.5 1256.69,530.5 1257.57,520.5 1258.45,537.5 1259.33,535.2 1260.20,537.0 1261.08,537.5 1261.96,516.5 1262.84,537.5 1263.72,537.5 1264.60,537.3 1265.48,537.5 1266.35,535.2 1267.23,536.8 1268.11,531.0 1268.99,537.5 1269.87,530.2 1270.75,537.5 1271.62,537.5 1272.50,534.4 1273.38,535.0 1274.26,537.5 1275.14,537.0 1276.02,533.4 1276.90,537.5 1277.77,524.9 1278.65,527.5 1279.53,534.3 1280.41,529.2 1281.29,537.5 1282.17,536.3 1283.05,535.1 1283.92,537.5 1284.80,533.5 1285.68,533.9 1286.56,537.5 1287.44,534.5 1288.32,534.5 1289.19,529.9 1290.07,535.3 1290.95,537.5 1291.83,537.5 1292.71,533.7 1293.59,537.5 1294.47,537.5 1295.34,537.5 1296.22,537.5 1297.10,537.0 1297.98,529.3 1298.86,536.0 1299.74,536.0 1300.61,537.5 1301.49,537.5 1302.37,529.1 1303.25,533.7 1304.13,534.7 1305.01,537.5 1305.89,537.5 1306.76,537.5 1307.64,536.5 1308.52,537.5 1309.40,534.8 1310.28,536.3 1311.16,537.5 1312.03,537.5 1312.91,531.5 1313.79,537.5 1314.67,535.0 1315.55,537.5 1316.43,537.5 1317.31,536.1 1318.18,529.1 1319.06,521.7 1319.94,535.1 1320.82,537.5 1321.70,536.5 1322.58,537.5 1323.45,537.5 1324.33,537.5 1325.21,537.5 1326.09,537.5 1326.97,529.3 1327.85,537.5 1328.73,537.5 1329.60,537.5 1330.48,537.5 1331.36,534.0 1332.24,536.0 1333.12,535.3 1334.00,537.5 1334.88,537.0 1335.75,531.8 1336.63,537.5 1337.51,537.5 1338.39,533.7 1339.27,537.5 1340.15,537.5 1341.02,527.7 1341.90,537.5 1342.78,533.5 1343.66,537.5 1344.54,535.4 1345.42,534.5 1346.30,534.1 1347.17,536.7 1348.05,537.5 1348.93,537.5 1349.81,537.5 1350.69,527.9 1351.57,537.5 1352.44,520.1 1353.32,527.9 1354.20,535.3 1355.08,534.6 1355.96,537.5 1356.84,528.5 1357.72,528.1 1358.59,537.5 1359.47,537.5 1360.35,534.7 1361.23,537.5 1362.11,537.5 1362.99,537.5 1363.86,537.5 1364.74,537.5 1365.62,535.7" fill="none" stroke="#00c000" stroke-width="1" shape-rendering="crispEdges"/>
<polyline points="101.50,537.5 102.38,537.5 103.26,533.9 104.14,535.1 105.01,528.1 105.89,537.5 106.77,537.5 107.65,531.2 108.53,537.5 109.41,537.5 110.28,529.6 111.16,537.5 112.04,537.5 112.92,537.5 113.80,527.9 114.68,537.1 115.56,537.5 116.43,536.4 117.31,537.0 118.19,537.5 119.07,535.8 119.95,537.5 120.83,537.5 121.70,535.6 122.58,537.5 123.46,537.0 124.34,535.0 125.22,536.5 126.10,537.5 126.98,531.5 127.85,535.9 128.73,537.5 129.61,537.0 130.49,536.9 131.37,537.5 132.25,537.5 133.12,537.3 134.00,537.5 134.88,537.5 135.76,537.5 136.64,537.5 137.52,535.1 138.40,531.6 139.27,537.1 140.15,527.7 141.03,537.5 141.91,536.4 142.79,528.7 143.67,537.1 144.55,537.5 145.42,537.5 146.30,537.5 147.18,537.5 148.06,537.5 148.94,537.5 149.82,536.1 150.69,529.2 151.57,537.5 152.45,527.8 153.33,534.0 154.21,534.0" fill="none" stroke="#00c000" stroke-width="1" shape-rendering="crispEdges"/>
<path d="M101.5 535.5H1366.5M159.2 535.5L207.9 530.5" fill="none" stroke="#00c000" stroke-width="1" shape-rendering="crispEdges"/>
<polyline points="206.92,533.0 207.80,534.7 208.67,532.5 209.55,527.3 210.43,527.2 211.31,527.5 212.19,526.0 213.07,526.6 213.94,527.7 214.82,526.7 215.70,526.6 216.58,526.7 217.46,536.0 218.34,534.2 219.22,527.3 220.09,527.2 220.97,527.2 221.85,526.8 222.73,527.0 223.61,536.5 224.49,533.1 225.36,527.6 226.24,527.2 227.12,532.9 228.00,532.8 228.88,525.6 229.76,527.2 230.64,535.8 231.51,526.9 232.39,527.0 233.27,533.4 234.15,526.7 235.03,526.9 235.91,527.4 236.78,533.0 237.66,533.3 238.54,535.0 239.42,527.4 240.30,532.6 241.18,533.2 242.06,527.7 242.93,525.5 243.81,526.5 244.69,535.0 245.57,536.3 246.45,527.5 247.33,527.0 248.20,526.9 249.08,527.6 249.96,527.6 250.84,532.8 251.72,526.9 252.60,527.2 253.48,527.3 254.35,527.0 255.23,527.4 256.11,526.7 256.99,533.2 257.87,531.8 258.75,527.3 259.62,533.8 260.50,527.2 261.38,533.0 262.26,527.3 263.14,527.3 264.02,526.7 264.90,526.6 265.77,527.0 266.65,527.5 267.53,526.9 268.41,527.2 269.29,527.2 270.17,532.6 271.05,526.6 271.92,534.2 272.80,532.1 273.68,526.8 274.56,527.6 275.44,526.7 276.32,526.8 277.19,535.1 278.07,527.5 278.95,526.6 279.83,527.2 280.71,535.1 281.59,527.0 282.47,534.7 283.34,532.3 284.22,532.4 285.10,527.1 285.98,527.3 286.86,526.7 287.74,527.1 288.61,526.8 289.49,527.4 290.37,526.4 291.25,526.9 292.13,535.5 293.01,532.8 293.89,525.3 294.76,526.8 295.64,532.2 296.52,527.6 297.40,532.6 298.28,526.0 299.16,525.9 300.03,532.6 300.91,526.8 301.79,526.7 302.67,535.7 303.55,526.8 304.43,526.7 305.31,526.9 306.18,531.8 307.06,527.5 307.94,527.3 308.82,527.6 309.70,526.9 310.58,534.1 311.45,526.7 312.33,526.9 313.21,527.5 314.09,535.7 314.97,526.9 315.85,526.7 316.73,526.9 317.60,526.7 318.48,527.1 319.36,527.2 320.24,535.3 321.12,526.8 322.00,532.7 322.88,532.9 323.75,527.4 324.63,526.8 325.51,527.0 326.39,527.6 327.27,536.5 328.15,527.0 329.02,527.0 329.90,532.8 330.78,535.4 331.66,527.4 332.54,527.5 333.42,526.7 334.30,527.6 335.17,533.1 336.05,526.5 336.93,534.4 337.81,526.8 338.69,526.8 339.57,527.0 340.44,527.3 341.32,526.7 342.20,526.7 343.08,536.3 343.96,526.9 344.84,535.3 345.72,527.6 346.59,527.2 347.47,527.7 348.35,527.6 349.23,531.8 350.11,534.0 350.99,533.8 351.86,524.4 352.74,527.3 353.62,524.3 354.50,526.8 355.38,527.2 356.26,534.0 357.14,534.8 358.01,527.2 358.89,526.8 359.77,527.0 360.65,527.0 361.53,534.3 362.41,527.2 363.28,527.1 364.16,526.7 365.04,526.8 365.92,527.3 366.80,526.7 367.68,526.7 368.56,526.7 369.43,527.1 370.31,527.3 371.19,526.8 372.07,527.2 372.95,526.8 373.83,524.7 374.70,527.5 375.58,527.1 376.46,527.1 377.34,526.6 378.22,534.3 379.10,531.8 379.98,526.9 380.85,527.3 381.73,527.4 382.61,526.6 383.49,534.6 384.37,527.6 385.25,527.2 386.12,535.1 387.00,533.9 387.88,531.7 388.76,532.5 389.64,527.7 390.52,527.5 391.40,527.5 392.27,527.1 393.15,527.4 394.03,532.4 394.91,527.2 395.79,527.6 396.67,526.6 397.55,527.4 398.42,527.1 399.30,527.5 400.18,535.0 401.06,532.0 401.94,527.5 402.82,536.2 403.69,527.4 404.57,535.2 405.45,527.1 406.33,532.6 407.21,526.7 408.09,535.7 408.97,527.0 409.84,534.7 410.72,527.6 411.60,526.6 412.48,526.9 413.36,527.3 414.24,527.3 415.11,532.6 415.99,527.3 416.87,534.9 417.75,527.4 418.63,526.6 419.51,532.1 420.39,532.6 421.26,527.6 422.14,536.3 423.02,527.3 423.90,526.8 424.78,527.5 425.66,527.6 426.53,534.5 427.41,526.7 428.29,527.5 429.17,525.7 430.05,527.6 430.93,526.7 431.81,536.2 432.68,527.2 433.56,527.2 434.44,527.2 435.32,534.3 436.20,527.2 437.08,531.9 437.95,533.9 438.83,526.8 439.71,527.5 440.59,533.6 441.47,524.2 442.35,527.5 443.23,532.4 444.10,526.6 444.98,527.1 445.86,527.5 446.74,533.2 447.62,526.7 448.50,527.0 449.38,526.9 450.25,527.3 451.13,526.8 452.01,527.3 452.89,527.0 453.77,527.0 454.65,527.3 455.52,526.8 456.40,527.5 457.28,531.5 458.16,526.8 459.04,535.0 459.92,531.6 460.80,532.2 461.67,527.1 462.55,526.8 463.43,535.2 464.31,532.2 465.19,526.9 466.07,526.6 466.94,532.1 467.82,526.5 468.70,535.8 469.58,526.7 470.46,527.0 471.34,526.8 472.22,535.2 473.09,536.2 473.97,536.2 474.85,533.4 475.73,526.8 476.61,534.8 477.49,531.8 478.36,532.9 479.24,527.0 480.12,535.0 481.00,523.5 481.88,527.2 482.76,527.0 483.64,534.0 484.51,527.0 485.39,526.8 486.27,527.5 487.15,527.7 488.03,527.1 488.91,534.6 489.78,535.9 490.66,526.8 491.54,527.6 492.42,527.0 493.30,527.4 494.18,527.5 495.06,526.8 495.93,527.0 496.81,527.4 497.69,527.3 498.57,527.2 499.45,526.6 500.33,534.5 501.20,526.8 502.08,527.5 502.96,526.6 503.84,527.6 504.72,527.3 505.60,534.9 506.48,526.5 507.35,526.8 508.23,527.3 509.11,526.5 509.99,527.0 510.87,527.2 511.75,527.5 512.62,536.0 513.50,533.4 514.38,527.6 515.26,527.6 516.14,533.0 517.02,527.1 517.90,526.7 518.77,527.0 519.65,535.0 520.53,535.4 521.41,526.9 522.29,527.1 523.17,527.2 524.05,533.3 524.92,526.7 525.80,527.2 526.68,527.0 527.56,526.9 528.44,526.7 529.32,535.0 530.19,536.2 531.07,526.9 531.95,527.0 532.83,526.6 533.71,535.8 534.59,527.0 535.47,527.1 536.34,527.4 537.22,526.9 538.10,535.1 538.98,526.9 539.86,526.7 540.74,534.6 541.61,526.9 542.49,526.7 543.37,527.2 544.25,535.5 545.13,534.4 546.01,527.0 546.89,535.4 547.76,535.9 548.64,532.8 549.52,536.4 550.40,527.2 551.28,535.5 552.16,533.8 553.03,533.7 553.91,527.1 554.79,526.5 555.67,527.5 556.55,527.6 557.43,533.8 558.31,536.0 559.18,527.4 560.06,527.0 560.94,526.9 561.82,525.4 562.70,526.6 563.58,536.2 564.45,523.6 565.33,533.0 566.21,527.1 567.09,527.6 567.97,526.9 568.85,527.4 569.73,527.1 570.60,534.5 571.48,527.5 572.36,527.6 573.24,527.4 574.12,526.6 575.00,527.6 575.88,536.3 576.75,527.5 577.63,526.5 578.51,526.7 579.39,527.4 580.27,527.5 581.15,526.7 582.02,526.7 582.90,536.2 583.78,527.2 584.66,527.3 585.54,535.6 586.42,527.1 587.30,526.7 588.17,527.5 589.05,526.7 589.93,526.5 590.81,527.2 591.69,535.3 592.57,527.2 593.44,526.7 594.32,527.2 595.20,527.6 596.08,527.0 596.96,526.8 597.84,527.5 598.72,527.4 599.59,527.1 600.47,526.8 601.35,526.5 602.23,527.2 603.11,526.5 603.99,526.9 604.86,527.7 605.74,527.3 606.62,527.6 607.50,527.1 608.38,532.4 609.26,527.1 610.14,527.5 611.01,526.8 611.89,527.5 612.77,526.9 613.65,527.2 614.53,532.3 615.41,527.5 616.28,527.5 617.16,534.1 618.04,526.9 618.92,527.6 619.80,527.4 620.68,526.8 621.56,527.0 622.43,533.6 623.31,526.6 624.19,527.1 625.07,526.8 625.95,532.0 626.83,534.7 627.70,526.7 628.58,527.2 629.46,527.5 630.34,527.6 631.22,527.0 632.10,533.0 632.98,535.4 633.85,527.2 634.73,532.4 635.61,535.8 636.49,526.5 637.37,526.2 638.25,527.7 639.12,526.9 640.00,526.7 640.88,527.5 641.76,527.0 642.64,527.3 643.52,533.5 644.40,526.9 645.27,526.7 646.15,527.6 647.03,526.6 647.91,527.6 648.79,524.6 649.67,526.8 650.55,527.6 651.42,527.3 652.30,527.5 653.18,526.5 654.06,527.4 654.94,527.5 655.82,527.3 656.69,536.1 657.57,526.7 658.45,527.4 659.33,527.0 660.21,532.3 661.09,527.6 661.97,526.8 662.84,527.0 663.72,526.8 664.60,527.1 665.48,527.2 666.36,526.8 667.24,532.8 668.11,526.5 668.99,532.4 669.87,527.7 670.75,527.3 671.63,527.6 672.51,527.4 673.39,527.0 674.26,526.8 675.14,534.3 676.02,527.5 676.90,526.8 677.78,527.3 678.66,527.0 679.53,526.6 680.41,526.6 681.29,527.4 682.17,534.6 683.05,527.1 683.93,526.7 684.81,532.2 685.68,527.4 686.56,532.0 687.44,532.7 688.32,532.0 689.20,524.3 690.08,527.5 690.95,526.7 691.83,527.6 692.71,527.1 693.59,526.6 694.47,527.4 695.35,526.7 696.23,534.0 697.10,527.2 697.98,526.6 698.86,533.2 699.74,526.9 700.62,533.3 701.50,527.0 702.38,526.2 703.25,527.6 704.13,526.7 705.01,527.3 705.89,535.4 706.77,527.1 707.65,534.5 708.52,526.6 709.40,526.7 710.28,527.3 711.16,527.1 712.04,526.7 712.92,527.2 713.80,524.1 714.67,526.7 715.55,527.7 716.43,535.5 717.31,526.6 718.19,527.7 719.07,527.4 719.94,535.1 720.82,527.6 721.70,532.7 722.58,526.9 723.46,526.8 724.34,527.0 725.22,527.6 726.09,527.6 726.97,526.7 727.85,526.9 728.73,527.5 729.61,536.1 730.49,534.1 731.36,526.7 732.24,527.4 733.12,526.8 734.00,526.5 734.88,526.8 735.76,531.8 736.64,527.1 737.51,526.7 738.39,526.8 739.27,526.8 740.15,534.1 741.03,527.1 741.91,532.0 742.78,534.8 743.66,535.2 744.54,527.0 745.42,535.0 746.30,534.6 747.18,527.5 748.06,527.5 748.93,533.9 749.81,527.4 750.69,526.7 751.57,532.9 752.45,527.4 753.33,526.6 754.20,526.8 755.08,527.0 755.96,527.4 756.84,527.3 757.72,526.9 758.60,527.2 759.48,527.4 760.35,526.8 761.23,527.1 762.11,535.2 762.99,527.7 763.87,534.7 764.75,527.5 765.62,527.2 766.50,527.1 767.38,533.6 768.26,533.4 769.14,527.5 770.02,526.7 770.90,526.6 771.77,527.2 772.65,526.6 773.53,526.5 774.41,535.8 775.29,526.9 776.17,527.3 777.05,527.2 777.92,534.4 778.80,527.4 779.68,527.4 780.56,534.6 781.44,533.1 782.32,527.2 783.19,527.1 784.07,527.2 784.95,531.6 785.83,526.5 786.71,526.9 787.59,526.7 788.47,527.1 789.34,526.9 790.22,534.7 791.10,533.0 791.98,526.6 792.86,527.1 793.74,536.1 794.61,532.9 795.49,527.4 796.37,536.2 797.25,526.9 798.13,534.0 799.01,533.7 799.89,527.0 800.76,527.4 801.64,527.7 802.52,527.0 803.40,526.7 804.28,536.1 805.16,534.3 806.03,526.5 806.91,527.6 807.79,527.6 808.67,526.6 809.55,535.1 810.43,527.2 811.31,532.4 812.18,527.0 813.06,527.3 813.94,526.7 814.82,531.9 815.70,526.7 816.58,532.4 817.45,527.5 818.33,527.4 819.21,535.9 820.09,527.5 820.97,527.5 821.85,526.6 822.73,527.6 823.60,527.2 824.48,526.6 825.36,527.4 826.24,526.5 827.12,527.0 828.00,526.7 828.88,527.6 829.75,527.0 830.63,531.9 831.51,527.5 832.39,527.0 833.27,532.3 834.15,527.1 835.02,527.3 835.90,527.3 836.78,527.4 837.66,526.8 838.54,527.4 839.42,535.9 840.30,536.3 841.17,525.1 842.05,531.9 842.93,526.6 843.81,527.6 844.69,527.6 845.57,527.3 846.44,526.7 847.32,527.4 848.20,527.3 849.08,527.5 849.96,527.2 850.84,535.8 851.72,527.7 852.59,527.5 853.47,527.5 854.35,527.0 855.23,527.6 856.11,535.9 856.99,527.6 857.86,524.0 858.74,526.9 859.62,527.5 860.50,534.7 861.38,527.0 862.26,527.5 863.14,527.5 864.01,535.5 864.89,527.7 865.77,533.7 866.65,525.1 867.53,525.2 868.41,535.0 869.28,526.6 870.16,531.8 871.04,527.2 871.92,532.6 872.80,527.5 873.68,527.4 874.56,527.4 875.43,527.6 876.31,527.0 877.19,526.7 878.07,526.7 878.95,527.1 879.83,532.6 880.70,527.6 881.58,533.4 882.46,526.9 883.34,526.6 884.22,527.0 885.10,536.3 885.98,526.8 886.85,526.7 887.73,534.3 888.61,527.0 889.49,527.1 890.37,535.7 891.25,534.0 892.12,536.4 893.00,534.1 893.88,532.2 894.76,527.1 895.64,527.2 896.52,533.2 897.40,527.5 898.27,527.2 899.15,531.5 900.03,527.5 900.91,526.9 901.79,527.3 902.67,526.7 903.55,527.1 904.42,527.4 905.30,526.5 906.18,533.1 907.06,534.8 907.94,532.9 908.82,527.0 909.69,526.9 910.57,526.8 911.45,526.8 912.33,526.9 913.21,526.8 914.09,527.2 914.97,535.3 915.84,534.1 916.72,526.5 917.60,527.0 918.48,527.0 919.36,527.1 920.24,523.7 921.11,526.9 921.99,527.0 922.87,535.9 923.75,526.9 924.63,527.3 925.51,526.8 926.39,527.1 927.26,527.6 928.14,527.5 929.02,527.3 929.90,526.9 930.78,527.2 931.66,526.7 932.53,526.5 933.41,526.6 934.29,526.9 935.17,526.9 936.05,531.7 936.93,525.6 937.81,526.6 938.68,527.6 939.56,526.5 940.44,532.3 941.32,527.4 942.20,527.6 943.08,531.6 943.95,527.4 944.83,527.4 945.71,527.1 946.59,534.9 947.47,527.2 948.35,534.7 949.23,532.0 950.10,526.9 950.98,526.7 951.86,527.4 952.74,526.7 953.62,523.6 954.50,527.6 955.38,533.8 956.25,527.3 957.13,527.6 958.01,527.0 958.89,527.7 959.77,527.4 960.65,526.8 961.52,527.3 962.40,526.8 963.28,527.5 964.16,527.0 965.04,527.4 965.92,535.6 966.80,527.6 967.67,534.2 968.55,531.9 969.43,527.4 970.31,527.6 971.19,534.7 972.07,527.0 972.94,532.8 973.82,526.5 974.70,527.5 975.58,526.9 976.46,532.7 977.34,533.2 978.22,536.2 979.09,527.6 979.97,526.8 980.85,535.2 981.73,533.8 982.61,531.7 983.49,532.6 984.36,527.6 985.24,534.4 986.12,533.6 987.00,526.7 987.88,527.5 988.76,527.5 989.64,526.7 990.51,534.1 991.39,527.3 992.27,526.8 993.15,527.3 994.03,524.6 994.91,527.3 995.78,527.3 996.66,527.5 997.54,527.5 998.42,536.3 999.30,526.8 1000.18,526.5 1001.06,533.0 1001.93,531.7 1002.81,533.7 1003.69,527.2 1004.57,526.1 1005.45,527.1 1006.33,527.2 1007.20,526.6 1008.08,526.6 1008.96,527.1 1009.84,533.1 1010.72,526.9 1011.60,526.9 1012.48,526.6 1013.35,527.6 1014.23,527.2 1015.11,527.2 1015.99,526.5 1016.87,527.5 1017.75,527.2 1018.62,526.5 1019.50,527.3 1020.38,527.1 1021.26,534.8 1022.14,527.6 1023.02,526.8 1023.90,527.5 1024.77,526.9 1025.65,534.4 1026.53,526.7 1027.41,527.0 1028.29,527.4 1029.17,527.0 1030.05,527.5 1030.92,527.1 1031.80,534.5 1032.68,527.4 1033.56,527.2 1034.44,527.5 1035.32,534.8 1036.19,526.6 1037.07,527.5 1037.95,527.4 1038.83,526.7 1039.71,527.6 1040.59,534.4 1041.47,527.7 1042.34,526.9 1043.22,526.8 1044.10,527.0 1044.98,527.6 1045.86,534.2 1046.74,532.5 1047.61,527.7 1048.49,526.7 1049.37,526.7 1050.25,527.2 1051.13,524.6 1052.01,532.5 1052.89,527.3 1053.76,534.6 1054.64,527.1 1055.52,533.1 1056.40,534.6 1057.28,526.7 1058.16,527.3 1059.03,526.8 1059.91,527.3 1060.79,526.6 1061.67,526.7 1062.55,533.3 1063.43,527.4 1064.31,526.7 1065.18,527.7 1066.06,526.6 1066.94,534.7 1067.82,527.6 1068.70,527.3 1069.58,526.8 1070.45,527.2 1071.33,533.2 1072.21,534.2 1073.09,527.2 1073.97,527.4 1074.85,535.8 1075.73,527.5 1076.60,527.4 1077.48,526.7 1078.36,526.7 1079.24,527.2 1080.12,527.6 1081.00,527.2 1081.88,526.9 1082.75,527.4 1083.63,534.1 1084.51,533.5 1085.39,527.0 1086.27,535.3 1087.15,527.0 1088.02,526.9 1088.90,526.5 1089.78,532.6 1090.66,527.5 1091.54,527.1 1092.42,526.7 1093.30,526.7 1094.17,527.5 1095.05,534.8 1095.93,526.9 1096.81,526.9 1097.69,533.2 1098.57,534.0 1099.44,527.0 1100.32,527.3 1101.20,526.9 1102.08,527.4 1102.96,527.5 1103.84,527.3 1104.72,527.3 1105.59,527.3 1106.47,536.4 1107.35,526.5 1108.23,526.7 1109.11,526.7 1109.99,527.4 1110.86,526.8 1111.74,527.6 1112.62,527.0 1113.50,527.5 1114.38,527.1 1115.26,536.2 1116.14,527.0 1117.01,526.5 1117.89,527.5 1118.77,527.2 1119.65,527.5 1120.53,534.8 1121.41,531.9 1122.28,527.6 1123.16,526.8 1124.04,527.0 1124.92,526.6 1125.80,527.0 1126.68,527.5 1127.56,526.6 1128.43,526.0 1129.31,527.6 1130.19,532.5 1131.07,532.0 1131.95,533.4 1132.83,527.6 1133.70,527.2 1134.58,527.5 1135.46,536.0 1136.34,527.5 1137.22,527.7 1138.10,526.7 1138.98,527.4 1139.85,527.4 1140.73,527.4 1141.61,527.1 1142.49,527.1 1143.37,527.0 1144.25,526.9 1145.12,526.8 1146.00,526.5 1146.88,526.8 1147.76,526.5 1148.64,527.2 1149.52,527.6 1150.40,527.2 1151.27,526.8 1152.15,527.6 1153.03,535.0 1153.91,535.2 1154.79,535.5 1155.67,527.0 1156.55,527.1 1157.42,534.8 1158.30,527.3 1159.18,531.9 1160.06,526.9 1160.94,527.5 1161.82,532.5 1162.69,527.0 1163.57,527.2 1164.45,533.8 1165.33,527.3 1166.21,527.7 1167.09,526.9 1167.97,527.1 1168.84,526.9 1169.72,526.9 1170.60,527.4 1171.48,526.7 1172.36,527.7 1173.24,527.1 1174.11,534.5 1174.99,532.6 1175.87,527.1 1176.75,527.3 1177.63,526.6 1178.51,526.6 1179.39,535.1 1180.26,532.5 1181.14,526.7 1182.02,531.5 1182.90,536.4 1183.78,535.0 1184.66,527.0 1185.53,527.1 1186.41,527.2 1187.29,526.6 1188.17,527.7 1189.05,527.6 1189.93,535.4 1190.81,527.2 1191.68,526.6 1192.56,527.0 1193.44,526.7 1194.32,527.6 1195.20,526.8 1196.08,534.5 1196.95,526.8 1197.83,532.4 1198.71,527.0 1199.59,527.3 1200.47,527.0 1201.35,527.4 1202.23,527.0 1203.10,534.0 1203.98,526.7 1204.86,527.3 1205.74,526.8 1206.62,526.0 1207.50,526.6 1208.38,526.8 1209.25,527.1 1210.13,532.1 1211.01,526.7 1211.89,527.1 1212.77,532.9 1213.65,527.6 1214.52,526.9 1215.40,527.4 1216.28,527.3 1217.16,527.3 1218.04,527.7 1218.92,526.6 1219.80,527.6 1220.67,527.6 1221.55,527.1 1222.43,536.2 1223.31,527.0 1224.19,533.5 1225.07,527.2 1225.94,526.6 1226.82,527.2 1227.70,535.8 1228.58,527.2 1229.46,532.5 1230.34,527.3 1231.22,527.0 1232.09,526.7 1232.97,527.0 1233.85,534.3 1234.73,526.9 1235.61,527.5 1236.49,527.4 1237.36,526.7 1238.24,526.8 1239.12,527.0 1240.00,526.6 1240.88,526.9 1241.76,527.3 1242.64,527.5 1243.51,527.3 1244.39,527.7 1245.27,526.8 1246.15,535.9 1247.03,531.6 1247.91,526.5 1248.78,527.6 1249.66,526.9 1250.54,527.2 1251.42,532.9 1252.30,527.3 1253.18,526.9 1254.06,526.7 1254.93,527.7 1255.81,526.7 1256.69,526.8 1257.57,527.3 1258.45,526.7 1259.33,527.4 1260.20,527.7 1261.08,527.1 1261.96,527.7 1262.84,527.3 1263.72,527.5 1264.60,532.2 1265.48,527.5 1266.35,527.4 1267.23,535.4 1268.11,526.7 1268.99,534.6 1269.87,535.1 1270.75,527.2 1271.62,527.7 1272.50,525.0 1273.38,527.3 1274.26,527.0 1275.14,526.7 1276.02,527.0 1276.90,527.4 1277.77,526.8 1278.65,533.0 1279.53,527.6 1280.41,526.9 1281.29,527.7 1282.17,536.0 1283.05,527.2 1283.92,527.4 1284.80,535.8 1285.68,526.6 1286.56,533.6 1287.44,527.4 1288.32,534.8 1289.19,527.7 1290.07,527.4 1290.95,527.2 1291.83,526.9 1292.71,533.1 1293.59,534.6 1294.47,534.7 1295.34,527.2 1296.22,531.5 1297.10,526.8 1297.98,536.3 1298.86,526.8 1299.74,526.8 1300.61,526.7 1301.49,532.2 1302.37,527.5 1303.25,527.0 1304.13,526.6 1305.01,527.2 1305.89,527.6 1306.76,527.7 1307.64,527.2 1308.52,527.3 1309.40,527.2 1310.28,527.4 1311.16,534.5 1312.03,526.9 1312.91,526.5 1313.79,527.5 1314.67,527.7 1315.55,526.5 1316.43,526.5 1317.31,527.7 1318.18,533.4 1319.06,526.6 1319.94,526.8 1320.82,533.2 1321.70,536.2 1322.58,524.5 1323.45,534.9 1324.33,527.4 1325.21,526.6 1326.09,526.9 1326.97,526.8 1327.85,526.5 1328.73,526.9 1329.60,527.3 1330.48,533.6 1331.36,524.0 1332.24,527.4 1333.12,526.7 1334.00,531.9 1334.88,533.1 1335.75,533.4 1336.63,526.8 1337.51,533.3 1338.39,527.6 1339.27,533.1 1340.15,527.0 1341.02,527.5 1341.90,535.5 1342.78,526.9 1343.66,526.6 1344.54,533.2 1345.42,526.9 1346.30,533.3 1347.17,526.6 1348.05,526.6 1348.93,527.3 1349.81,533.5 1350.69,534.0 1351.57,527.1 1352.44,534.1 1353.32,526.9 1354.20,527.2 1355.08,527.6 1355.96,527.0 1356.84,526.9 1357.72,536.4 1358.59,527.3 1359.47,526.6 1360.35,527.2 1361.23,527.5 1362.11,532.5" fill="none" stroke="#0080ff" stroke-width="1" shape-rendering="crispEdges"/>
<polyline points="101.50,527.4 102.38,527.5 103.26,527.5 104.14,526.9 105.01,532.1 105.89,527.0 106.77,532.4 107.65,526.7 108.53,526.9 109.41,527.4 110.28,527.4 111.16,532.1 112.04,536.3 112.92,526.5 113.80,526.6 114.68,526.8 115.56,526.6 116.43,533.8 117.31,526.5 118.19,527.5 119.07,534.6 119.95,526.5 120.83,527.7 121.70,527.5 122.58,527.3 123.46,527.0 124.34,535.1 125.22,526.5 126.10,526.8 126.98,527.1 127.85,527.7 128.73,527.5 129.61,527.2 130.49,526.5 131.37,527.2 132.25,531.6 133.12,527.5 134.00,527.3 134.88,526.8 135.76,526.6 136.64,531.5 137.52,527.1 138.40,526.9 139.27,533.6 140.15,526.8 141.03,531.9 141.91,526.7 142.79,526.9 143.67,527.7 144.55,527.5 145.42,527.3 146.30,526.7 147.18,527.3 148.06,526.9 148.94,535.8 149.82,527.4 150.69,526.8 151.57,527.3 152.45,527.1" fill="none" stroke="#0080ff" stroke-width="1" shape-rendering="crispEdges"/>
<path d="M101.5 527.5L1362.5 526.5" stroke="#0080ff" stroke-width="1" shape-rendering="crispEdges"/>
<polygon points="198.4,328.2 214.8,328.2 206.6,340.6" fill="none" stroke="#c080ff" stroke-width="1.1"/>
<polygon points="198.4,347.2 214.8,347.2 206.6,359.6" fill="none" stroke="#306080" stroke-width="1.1"/>
<path d="M200.1 371.5h13M206.6 365.0v13" stroke="#008040" stroke-width="1.2"/>
<rect x="200.6" y="427.5" width="12" height="12" fill="none" stroke="#c000ff" stroke-width="1.1"/>
<polygon points="206.6,455.7 215.1,468.2 198.1,468.2" fill="none" stroke="#4169e1" stroke-width="1.1"/>
<rect x="200.3" y="481.2" width="12.6" height="12.6" fill="#00eeee"/>
<polygon points="109.7,455.7 118.2,468.2 101.2,468.2" fill="none" stroke="#4169e1" stroke-width="1.1"/>
<polygon points="1280.5,455.7 1289.0,468.2 1272.0,468.2" fill="none" stroke="#4169e1" stroke-width="1.1"/>
<polygon points="1290.4,455.7 1298.9,468.2 1281.9,468.2" fill="none" stroke="#4169e1" stroke-width="1.1"/>
<polygon points="1301.5,455.7 1310.0,468.2 1293.0,468.2" fill="none" stroke="#4169e1" stroke-width="1.1"/>
<polygon points="1321.5,455.7 1330.0,468.2 1313.0,468.2" fill="none" stroke="#4169e1" stroke-width="1.1"/>
<polygon points="1333.5,455.7 1342.0,468.2 1325.0,468.2" fill="none" stroke="#4169e1" stroke-width="1.1"/>
<polygon points="1343.5,455.7 1352.0,468.2 1335.0,468.2" fill="none" stroke="#4169e1" stroke-width="1.1"/>
<polygon points="1354.5,455.7 1363.0,468.2 1346.0,468.2" fill="none" stroke="#4169e1" stroke-width="1.1"/>
<polygon points="101.5,402.0 110.0,414.5 93.0,414.5" fill="#ffc020"/>
<polygon points="206.9,402.0 215.4,414.5 198.4,414.5" fill="#ffc020"/>
<polygon points="259.6,402.0 268.1,414.5 251.1,414.5" fill="#ffc020"/>
<polygon points="417.8,402.0 426.2,414.5 409.2,414.5" fill="#ffc020"/>
<polygon points="470.5,402.0 479.0,414.5 462.0,414.5" fill="#ffc020"/>
<polygon points="523.2,402.0 531.7,414.5 514.7,414.5" fill="#ffc020"/>
<polygon points="575.9,402.0 584.4,414.5 567.4,414.5" fill="#ffc020"/>
<polygon points="628.6,402.0 637.1,414.5 620.1,414.5" fill="#ffc020"/>
<polygon points="786.7,402.0 795.2,414.5 778.2,414.5" fill="#ffc020"/>
<polygon points="839.4,402.0 847.9,414.5 830.9,414.5" fill="#ffc020"/>
<polygon points="944.8,402.0 953.3,414.5 936.3,414.5" fill="#ffc020"/>
<polygon points="997.5,402.0 1006.0,414.5 989.0,414.5" fill="#ffc020"/>
<polygon points="1050.2,402.0 1058.8,414.5 1041.8,414.5" fill="#ffc020"/>
<polygon points="1103.0,402.0 1111.5,414.5 1094.5,414.5" fill="#ffc020"/>
<polygon points="1313.8,402.0 1322.3,414.5 1305.3,414.5" fill="#ffc020"/>
<polygon points="100.7,531.4 105.9,531.4 109.1,534.6 109.1,539.8 105.9,543.0 100.7,543.0 97.5,539.8 97.5,534.6" fill="#c8c800"/><path d="M96.5 537.2h1.2M108.9 537.2h1.2M103.3 530.4v1.2M103.3 542.8v1.2" stroke="#c8c800" stroke-width="1"/>
<polygon points="146.7,531.4 151.9,531.4 155.1,534.6 155.1,539.8 151.9,543.0 146.7,543.0 143.5,539.8 143.5,534.6" fill="#c8c800"/><path d="M142.5 537.2h1.2M154.9 537.2h1.2M149.3 530.4v1.2M149.3 542.8v1.2" stroke="#c8c800" stroke-width="1"/>
<polygon points="205.7,531.4 210.9,531.4 214.1,534.6 214.1,539.8 210.9,543.0 205.7,543.0 202.5,539.8 202.5,534.6" fill="#c8c800"/><path d="M201.5 537.2h1.2M213.9 537.2h1.2M208.3 530.4v1.2M208.3 542.8v1.2" stroke="#c8c800" stroke-width="1"/>
<polygon points="252.4,531.4 257.6,531.4 260.8,534.6 260.8,539.8 257.6,543.0 252.4,543.0 249.2,539.8 249.2,534.6" fill="#c8c800"/><path d="M248.2 537.2h1.2M260.6 537.2h1.2M255.0 530.4v1.2M255.0 542.8v1.2" stroke="#c8c800" stroke-width="1"/>
<polygon points="258.9,531.4 264.1,531.4 267.3,534.6 267.3,539.8 264.1,543.0 258.9,543.0 255.7,539.8 255.7,534.6" fill="#c8c800"/><path d="M254.7 537.2h1.2M267.1 537.2h1.2M261.5 530.4v1.2M261.5 542.8v1.2" stroke="#c8c800" stroke-width="1"/>
<polygon points="304.9,531.4 310.1,531.4 313.3,534.6 313.3,539.8 310.1,543.0 304.9,543.0 301.7,539.8 301.7,534.6" fill="#c8c800"/><path d="M300.7 537.2h1.2M313.1 537.2h1.2M307.5 530.4v1.2M307.5 542.8v1.2" stroke="#c8c800" stroke-width="1"/>
<polygon points="311.9,531.4 317.1,531.4 320.3,534.6 320.3,539.8 317.1,543.0 311.9,543.0 308.7,539.8 308.7,534.6" fill="#c8c800"/><path d="M307.7 537.2h1.2M320.1 537.2h1.2M314.5 530.4v1.2M314.5 542.8v1.2" stroke="#c8c800" stroke-width="1"/>
<polygon points="357.9,531.4 363.1,531.4 366.3,534.6 366.3,539.8 363.1,543.0 357.9,543.0 354.7,539.8 354.7,534.6" fill="#c8c800"/><path d="M353.7 537.2h1.2M366.1 537.2h1.2M360.5 530.4v1.2M360.5 542.8v1.2" stroke="#c8c800" stroke-width="1"/>
<polygon points="363.7,531.4 368.9,531.4 372.1,534.6 372.1,539.8 368.9,543.0 363.7,543.0 360.5,539.8 360.5,534.6" fill="#c8c800"/><path d="M359.5 537.2h1.2M371.9 537.2h1.2M366.3 530.4v1.2M366.3 542.8v1.2" stroke="#c8c800" stroke-width="1"/>
<polygon points="410.7,531.4 415.9,531.4 419.1,534.6 419.1,539.8 415.9,543.0 410.7,543.0 407.5,539.8 407.5,534.6" fill="#c8c800"/><path d="M406.5 537.2h1.2M418.9 537.2h1.2M413.3 530.4v1.2M413.3 542.8v1.2" stroke="#c8c800" stroke-width="1"/>
<polygon points="416.9,531.4 422.1,531.4 425.3,534.6 425.3,539.8 422.1,543.0 416.9,543.0 413.7,539.8 413.7,534.6" fill="#c8c800"/><path d="M412.7 537.2h1.2M425.1 537.2h1.2M419.5 530.4v1.2M419.5 542.8v1.2" stroke="#c8c800" stroke-width="1"/>
<polygon points="464.2,531.4 469.4,531.4 472.6,534.6 472.6,539.8 469.4,543.0 464.2,543.0 461.0,539.8 461.0,534.6" fill="#c8c800"/><path d="M460.0 537.2h1.2M472.4 537.2h1.2M466.8 530.4v1.2M466.8 542.8v1.2" stroke="#c8c800" stroke-width="1"/>
<polygon points="469.9,531.4 475.1,531.4 478.3,534.6 478.3,539.8 475.1,543.0 469.9,543.0 466.7,539.8 466.7,534.6" fill="#c8c800"/><path d="M465.7 537.2h1.2M478.1 537.2h1.2M472.5 530.4v1.2M472.5 542.8v1.2" stroke="#c8c800" stroke-width="1"/>
<polygon points="515.7,531.4 520.9,531.4 524.1,534.6 524.1,539.8 520.9,543.0 515.7,543.0 512.5,539.8 512.5,534.6" fill="#c8c800"/><path d="M511.5 537.2h1.2M523.9 537.2h1.2M518.3 530.4v1.2M518.3 542.8v1.2" stroke="#c8c800" stroke-width="1"/>
<polygon points="521.9,531.4 527.1,531.4 530.3,534.6 530.3,539.8 527.1,543.0 521.9,543.0 518.7,539.8 518.7,534.6" fill="#c8c800"/><path d="M517.7 537.2h1.2M530.1 537.2h1.2M524.5 530.4v1.2M524.5 542.8v1.2" stroke="#c8c800" stroke-width="1"/>
<polygon points="568.7,531.4 573.9,531.4 577.1,534.6 577.1,539.8 573.9,543.0 568.7,543.0 565.5,539.8 565.5,534.6" fill="#c8c800"/><path d="M564.5 537.2h1.2M576.9 537.2h1.2M571.3 530.4v1.2M571.3 542.8v1.2" stroke="#c8c800" stroke-width="1"/>
<polygon points="574.9,531.4 580.1,531.4 583.3,534.6 583.3,539.8 580.1,543.0 574.9,543.0 571.7,539.8 571.7,534.6" fill="#c8c800"/><path d="M570.7 537.2h1.2M583.1 537.2h1.2M577.5 530.4v1.2M577.5 542.8v1.2" stroke="#c8c800" stroke-width="1"/>
<polygon points="622.4,531.4 627.6,531.4 630.8,534.6 630.8,539.8 627.6,543.0 622.4,543.0 619.2,539.8 619.2,534.6" fill="#c8c800"/><path d="M618.2 537.2h1.2M630.6 537.2h1.2M625.0 530.4v1.2M625.0 542.8v1.2" stroke="#c8c800" stroke-width="1"/>
<polygon points="627.9,531.4 633.1,531.4 636.3,534.6 636.3,539.8 633.1,543.0 627.9,543.0 624.7,539.8 624.7,534.6" fill="#c8c800"/><path d="M623.7 537.2h1.2M636.1 537.2h1.2M630.5 530.4v1.2M630.5 542.8v1.2" stroke="#c8c800" stroke-width="1"/>
<polygon points="674.2,531.4 679.4,531.4 682.6,534.6 682.6,539.8 679.4,543.0 674.2,543.0 671.0,539.8 671.0,534.6" fill="#c8c800"/><path d="M670.0 537.2h1.2M682.4 537.2h1.2M676.8 530.4v1.2M676.8 542.8v1.2" stroke="#c8c800" stroke-width="1"/>
<polygon points="680.4,531.4 685.6,531.4 688.8,534.6 688.8,539.8 685.6,543.0 680.4,543.0 677.2,539.8 677.2,534.6" fill="#c8c800"/><path d="M676.2 537.2h1.2M688.6 537.2h1.2M683.0 530.4v1.2M683.0 542.8v1.2" stroke="#c8c800" stroke-width="1"/>
<polygon points="727.4,531.4 732.6,531.4 735.8,534.6 735.8,539.8 732.6,543.0 727.4,543.0 724.2,539.8 724.2,534.6" fill="#c8c800"/><path d="M723.2 537.2h1.2M735.6 537.2h1.2M730.0 530.4v1.2M730.0 542.8v1.2" stroke="#c8c800" stroke-width="1"/>
<polygon points="733.2,531.4 738.4,531.4 741.6,534.6 741.6,539.8 738.4,543.0 733.2,543.0 730.0,539.8 730.0,534.6" fill="#c8c800"/><path d="M729.0 537.2h1.2M741.4 537.2h1.2M735.8 530.4v1.2M735.8 542.8v1.2" stroke="#c8c800" stroke-width="1"/>
<polygon points="780.9,531.4 786.1,531.4 789.3,534.6 789.3,539.8 786.1,543.0 780.9,543.0 777.7,539.8 777.7,534.6" fill="#c8c800"/><path d="M776.7 537.2h1.2M789.1 537.2h1.2M783.5 530.4v1.2M783.5 542.8v1.2" stroke="#c8c800" stroke-width="1"/>
<polygon points="786.9,531.4 792.1,531.4 795.3,534.6 795.3,539.8 792.1,543.0 786.9,543.0 783.7,539.8 783.7,534.6" fill="#c8c800"/><path d="M782.7 537.2h1.2M795.1 537.2h1.2M789.5 530.4v1.2M789.5 542.8v1.2" stroke="#c8c800" stroke-width="1"/>
<polygon points="832.9,531.4 838.1,531.4 841.3,534.6 841.3,539.8 838.1,543.0 832.9,543.0 829.7,539.8 829.7,534.6" fill="#c8c800"/><path d="M828.7 537.2h1.2M841.1 537.2h1.2M835.5 530.4v1.2M835.5 542.8v1.2" stroke="#c8c800" stroke-width="1"/>
<polygon points="838.7,531.4 843.9,531.4 847.1,534.6 847.1,539.8 843.9,543.0 838.7,543.0 835.5,539.8 835.5,534.6" fill="#c8c800"/><path d="M834.5 537.2h1.2M846.9 537.2h1.2M841.3 530.4v1.2M841.3 542.8v1.2" stroke="#c8c800" stroke-width="1"/>
<polygon points="885.4,531.4 890.6,531.4 893.8,534.6 893.8,539.8 890.6,543.0 885.4,543.0 882.2,539.8 882.2,534.6" fill="#c8c800"/><path d="M881.2 537.2h1.2M893.6 537.2h1.2M888.0 530.4v1.2M888.0 542.8v1.2" stroke="#c8c800" stroke-width="1"/>
<polygon points="891.2,531.4 896.4,531.4 899.6,534.6 899.6,539.8 896.4,543.0 891.2,543.0 888.0,539.8 888.0,534.6" fill="#c8c800"/><path d="M887.0 537.2h1.2M899.4 537.2h1.2M893.8 530.4v1.2M893.8 542.8v1.2" stroke="#c8c800" stroke-width="1"/>
<polygon points="937.4,531.4 942.6,531.4 945.8,534.6 945.8,539.8 942.6,543.0 937.4,543.0 934.2,539.8 934.2,534.6" fill="#c8c800"/><path d="M933.2 537.2h1.2M945.6 537.2h1.2M940.0 530.4v1.2M940.0 542.8v1.2" stroke="#c8c800" stroke-width="1"/>
<polygon points="943.7,531.4 948.9,531.4 952.1,534.6 952.1,539.8 948.9,543.0 943.7,543.0 940.5,539.8 940.5,534.6" fill="#c8c800"/><path d="M939.5 537.2h1.2M951.9 537.2h1.2M946.3 530.4v1.2M946.3 542.8v1.2" stroke="#c8c800" stroke-width="1"/>
<polygon points="990.7,531.4 995.9,531.4 999.1,534.6 999.1,539.8 995.9,543.0 990.7,543.0 987.5,539.8 987.5,534.6" fill="#c8c800"/><path d="M986.5 537.2h1.2M998.9 537.2h1.2M993.3 530.4v1.2M993.3 542.8v1.2" stroke="#c8c800" stroke-width="1"/>
<polygon points="996.7,531.4 1001.9,531.4 1005.1,534.6 1005.1,539.8 1001.9,543.0 996.7,543.0 993.5,539.8 993.5,534.6" fill="#c8c800"/><path d="M992.5 537.2h1.2M1004.9 537.2h1.2M999.3 530.4v1.2M999.3 542.8v1.2" stroke="#c8c800" stroke-width="1"/>
<polygon points="1042.9,531.4 1048.1,531.4 1051.3,534.6 1051.3,539.8 1048.1,543.0 1042.9,543.0 1039.7,539.8 1039.7,534.6" fill="#c8c800"/><path d="M1038.7 537.2h1.2M1051.1 537.2h1.2M1045.5 530.4v1.2M1045.5 542.8v1.2" stroke="#c8c800" stroke-width="1"/>
<polygon points="1049.4,531.4 1054.6,531.4 1057.8,534.6 1057.8,539.8 1054.6,543.0 1049.4,543.0 1046.2,539.8 1046.2,534.6" fill="#c8c800"/><path d="M1045.2 537.2h1.2M1057.6 537.2h1.2M1052.0 530.4v1.2M1052.0 542.8v1.2" stroke="#c8c800" stroke-width="1"/>
<polygon points="1095.9,531.4 1101.1,531.4 1104.3,534.6 1104.3,539.8 1101.1,543.0 1095.9,543.0 1092.7,539.8 1092.7,534.6" fill="#c8c800"/><path d="M1091.7 537.2h1.2M1104.1 537.2h1.2M1098.5 530.4v1.2M1098.5 542.8v1.2" stroke="#c8c800" stroke-width="1"/>
<polygon points="1101.9,531.4 1107.1,531.4 1110.3,534.6 1110.3,539.8 1107.1,543.0 1101.9,543.0 1098.7,539.8 1098.7,534.6" fill="#c8c800"/><path d="M1097.7 537.2h1.2M1110.1 537.2h1.2M1104.5 530.4v1.2M1104.5 542.8v1.2" stroke="#c8c800" stroke-width="1"/>
<polygon points="1148.4,531.4 1153.6,531.4 1156.8,534.6 1156.8,539.8 1153.6,543.0 1148.4,543.0 1145.2,539.8 1145.2,534.6" fill="#c8c800"/><path d="M1144.2 537.2h1.2M1156.6 537.2h1.2M1151.0 530.4v1.2M1151.0 542.8v1.2" stroke="#c8c800" stroke-width="1"/>
<polygon points="1155.0,531.4 1160.2,531.4 1163.4,534.6 1163.4,539.8 1160.2,543.0 1155.0,543.0 1151.8,539.8 1151.8,534.6" fill="#c8c800"/><path d="M1150.8 537.2h1.2M1163.2 537.2h1.2M1157.6 530.4v1.2M1157.6 542.8v1.2" stroke="#c8c800" stroke-width="1"/>
<polygon points="1200.8,531.4 1206.0,531.4 1209.2,534.6 1209.2,539.8 1206.0,543.0 1200.8,543.0 1197.6,539.8 1197.6,534.6" fill="#c8c800"/><path d="M1196.6 537.2h1.2M1209.0 537.2h1.2M1203.4 530.4v1.2M1203.4 542.8v1.2" stroke="#c8c800" stroke-width="1"/>
<polygon points="1207.4,531.4 1212.6,531.4 1215.8,534.6 1215.8,539.8 1212.6,543.0 1207.4,543.0 1204.2,539.8 1204.2,534.6" fill="#c8c800"/><path d="M1203.2 537.2h1.2M1215.6 537.2h1.2M1210.0 530.4v1.2M1210.0 542.8v1.2" stroke="#c8c800" stroke-width="1"/>
<polygon points="1253.8,531.4 1259.0,531.4 1262.2,534.6 1262.2,539.8 1259.0,543.0 1253.8,543.0 1250.6,539.8 1250.6,534.6" fill="#c8c800"/><path d="M1249.6 537.2h1.2M1262.0 537.2h1.2M1256.4 530.4v1.2M1256.4 542.8v1.2" stroke="#c8c800" stroke-width="1"/>
<polygon points="1259.8,531.4 1265.0,531.4 1268.2,534.6 1268.2,539.8 1265.0,543.0 1259.8,543.0 1256.6,539.8 1256.6,534.6" fill="#c8c800"/><path d="M1255.6 537.2h1.2M1268.0 537.2h1.2M1262.4 530.4v1.2M1262.4 542.8v1.2" stroke="#c8c800" stroke-width="1"/>
<polygon points="1306.4,531.4 1311.6,531.4 1314.8,534.6 1314.8,539.8 1311.6,543.0 1306.4,543.0 1303.2,539.8 1303.2,534.6" fill="#c8c800"/><path d="M1302.2 537.2h1.2M1314.6 537.2h1.2M1309.0 530.4v1.2M1309.0 542.8v1.2" stroke="#c8c800" stroke-width="1"/>
<polygon points="1313.0,531.4 1318.2,531.4 1321.4,534.6 1321.4,539.8 1318.2,543.0 1313.0,543.0 1309.8,539.8 1309.8,534.6" fill="#c8c800"/><path d="M1308.8 537.2h1.2M1321.2 537.2h1.2M1315.6 530.4v1.2M1315.6 542.8v1.2" stroke="#c8c800" stroke-width="1"/>
<polygon points="1359.8,531.4 1365.0,531.4 1368.2,534.6 1368.2,539.8 1365.0,543.0 1359.8,543.0 1356.6,539.8 1356.6,534.6" fill="#c8c800"/><path d="M1355.6 537.2h1.2M1368.0 537.2h1.2M1362.4 530.4v1.2M1362.4 542.8v1.2" stroke="#c8c800" stroke-width="1"/>
<circle cx="103.3" cy="510.5" r="5.0" fill="none" stroke="#c04000" stroke-width="1.3"/><path d="M97.0 510.5h1.4M108.2 510.5h1.4M103.3 504.2v1.4M103.3 515.4v1.4" stroke="#c04000" stroke-width="1"/>
<circle cx="149.3" cy="505.5" r="5.0" fill="none" stroke="#c04000" stroke-width="1.3"/><path d="M143.0 505.5h1.4M154.2 505.5h1.4M149.3 499.2v1.4M149.3 510.4v1.4" stroke="#c04000" stroke-width="1"/>
<circle cx="208.3" cy="511.5" r="5.0" fill="none" stroke="#c04000" stroke-width="1.3"/><path d="M202.0 511.5h1.4M213.2 511.5h1.4M208.3 505.2v1.4M208.3 516.4v1.4" stroke="#c04000" stroke-width="1"/>
<circle cx="255.0" cy="510.0" r="5.0" fill="none" stroke="#c04000" stroke-width="1.3"/><path d="M248.7 510.0h1.4M259.9 510.0h1.4M255.0 503.7v1.4M255.0 514.9v1.4" stroke="#c04000" stroke-width="1"/>
<circle cx="261.5" cy="464.2" r="5.0" fill="none" stroke="#c04000" stroke-width="1.3"/><path d="M255.2 464.2h1.4M266.4 464.2h1.4M261.5 457.9v1.4M261.5 469.1v1.4" stroke="#c04000" stroke-width="1"/>
<circle cx="307.5" cy="511.3" r="5.0" fill="none" stroke="#c04000" stroke-width="1.3"/><path d="M301.2 511.3h1.4M312.4 511.3h1.4M307.5 505.0v1.4M307.5 516.2v1.4" stroke="#c04000" stroke-width="1"/>
<circle cx="314.5" cy="508.0" r="5.0" fill="none" stroke="#c04000" stroke-width="1.3"/><path d="M308.2 508.0h1.4M319.4 508.0h1.4M314.5 501.7v1.4M314.5 512.9v1.4" stroke="#c04000" stroke-width="1"/>
<circle cx="360.5" cy="511.3" r="5.0" fill="none" stroke="#c04000" stroke-width="1.3"/><path d="M354.2 511.3h1.4M365.4 511.3h1.4M360.5 505.0v1.4M360.5 516.2v1.4" stroke="#c04000" stroke-width="1"/>
<circle cx="366.3" cy="439.4" r="5.0" fill="none" stroke="#c04000" stroke-width="1.3"/><path d="M360.0 439.4h1.4M371.2 439.4h1.4M366.3 433.1v1.4M366.3 444.3v1.4" stroke="#c04000" stroke-width="1"/>
<circle cx="413.3" cy="509.3" r="5.0" fill="none" stroke="#c04000" stroke-width="1.3"/><path d="M407.0 509.3h1.4M418.2 509.3h1.4M413.3 503.0v1.4M413.3 514.2v1.4" stroke="#c04000" stroke-width="1"/>
<circle cx="419.5" cy="510.0" r="5.0" fill="none" stroke="#c04000" stroke-width="1.3"/><path d="M413.2 510.0h1.4M424.4 510.0h1.4M419.5 503.7v1.4M419.5 514.9v1.4" stroke="#c04000" stroke-width="1"/>
<circle cx="466.8" cy="509.3" r="5.0" fill="none" stroke="#c04000" stroke-width="1.3"/><path d="M460.5 509.3h1.4M471.7 509.3h1.4M466.8 503.0v1.4M466.8 514.2v1.4" stroke="#c04000" stroke-width="1"/>
<circle cx="472.5" cy="510.0" r="5.0" fill="none" stroke="#c04000" stroke-width="1.3"/><path d="M466.2 510.0h1.4M477.4 510.0h1.4M472.5 503.7v1.4M472.5 514.9v1.4" stroke="#c04000" stroke-width="1"/>
<circle cx="518.3" cy="505.5" r="5.0" fill="none" stroke="#c04000" stroke-width="1.3"/><path d="M512.0 505.5h1.4M523.2 505.5h1.4M518.3 499.2v1.4M518.3 510.4v1.4" stroke="#c04000" stroke-width="1"/>
<circle cx="524.5" cy="508.8" r="5.0" fill="none" stroke="#c04000" stroke-width="1.3"/><path d="M518.2 508.8h1.4M529.4 508.8h1.4M524.5 502.5v1.4M524.5 513.7v1.4" stroke="#c04000" stroke-width="1"/>
<circle cx="571.3" cy="507.5" r="5.0" fill="none" stroke="#c04000" stroke-width="1.3"/><path d="M565.0 507.5h1.4M576.2 507.5h1.4M571.3 501.2v1.4M571.3 512.4v1.4" stroke="#c04000" stroke-width="1"/>
<circle cx="577.5" cy="436.4" r="5.0" fill="none" stroke="#c04000" stroke-width="1.3"/><path d="M571.2 436.4h1.4M582.4 436.4h1.4M577.5 430.1v1.4M577.5 441.3v1.4" stroke="#c04000" stroke-width="1"/>
<circle cx="625.0" cy="509.3" r="5.0" fill="none" stroke="#c04000" stroke-width="1.3"/><path d="M618.7 509.3h1.4M629.9 509.3h1.4M625.0 503.0v1.4M625.0 514.2v1.4" stroke="#c04000" stroke-width="1"/>
<circle cx="630.5" cy="509.3" r="5.0" fill="none" stroke="#c04000" stroke-width="1.3"/><path d="M624.2 509.3h1.4M635.4 509.3h1.4M630.5 503.0v1.4M630.5 514.2v1.4" stroke="#c04000" stroke-width="1"/>
<circle cx="676.8" cy="508.0" r="5.0" fill="none" stroke="#c04000" stroke-width="1.3"/><path d="M670.5 508.0h1.4M681.7 508.0h1.4M676.8 501.7v1.4M676.8 512.9v1.4" stroke="#c04000" stroke-width="1"/>
<circle cx="683.0" cy="508.0" r="5.0" fill="none" stroke="#c04000" stroke-width="1.3"/><path d="M676.7 508.0h1.4M687.9 508.0h1.4M683.0 501.7v1.4M683.0 512.9v1.4" stroke="#c04000" stroke-width="1"/>
<circle cx="730.0" cy="507.0" r="5.0" fill="none" stroke="#c04000" stroke-width="1.3"/><path d="M723.7 507.0h1.4M734.9 507.0h1.4M730.0 500.7v1.4M730.0 511.9v1.4" stroke="#c04000" stroke-width="1"/>
<circle cx="735.8" cy="508.0" r="5.0" fill="none" stroke="#c04000" stroke-width="1.3"/><path d="M729.5 508.0h1.4M740.7 508.0h1.4M735.8 501.7v1.4M735.8 512.9v1.4" stroke="#c04000" stroke-width="1"/>
<circle cx="783.5" cy="508.3" r="5.0" fill="none" stroke="#c04000" stroke-width="1.3"/><path d="M777.2 508.3h1.4M788.4 508.3h1.4M783.5 502.0v1.4M783.5 513.2v1.4" stroke="#c04000" stroke-width="1"/>
<circle cx="789.5" cy="508.3" r="5.0" fill="none" stroke="#c04000" stroke-width="1.3"/><path d="M783.2 508.3h1.4M794.4 508.3h1.4M789.5 502.0v1.4M789.5 513.2v1.4" stroke="#c04000" stroke-width="1"/>
<circle cx="835.5" cy="510.0" r="5.0" fill="none" stroke="#c04000" stroke-width="1.3"/><path d="M829.2 510.0h1.4M840.4 510.0h1.4M835.5 503.7v1.4M835.5 514.9v1.4" stroke="#c04000" stroke-width="1"/>
<circle cx="841.3" cy="509.5" r="5.0" fill="none" stroke="#c04000" stroke-width="1.3"/><path d="M835.0 509.5h1.4M846.2 509.5h1.4M841.3 503.2v1.4M841.3 514.4v1.4" stroke="#c04000" stroke-width="1"/>
<circle cx="888.0" cy="508.8" r="5.0" fill="none" stroke="#c04000" stroke-width="1.3"/><path d="M881.7 508.8h1.4M892.9 508.8h1.4M888.0 502.5v1.4M888.0 513.7v1.4" stroke="#c04000" stroke-width="1"/>
<circle cx="893.8" cy="508.0" r="5.0" fill="none" stroke="#c04000" stroke-width="1.3"/><path d="M887.5 508.0h1.4M898.7 508.0h1.4M893.8 501.7v1.4M893.8 512.9v1.4" stroke="#c04000" stroke-width="1"/>
<circle cx="940.0" cy="507.0" r="5.0" fill="none" stroke="#c04000" stroke-width="1.3"/><path d="M933.7 507.0h1.4M944.9 507.0h1.4M940.0 500.7v1.4M940.0 511.9v1.4" stroke="#c04000" stroke-width="1"/>
<circle cx="946.3" cy="508.0" r="5.0" fill="none" stroke="#c04000" stroke-width="1.3"/><path d="M940.0 508.0h1.4M951.2 508.0h1.4M946.3 501.7v1.4M946.3 512.9v1.4" stroke="#c04000" stroke-width="1"/>
<circle cx="993.3" cy="509.5" r="5.0" fill="none" stroke="#c04000" stroke-width="1.3"/><path d="M987.0 509.5h1.4M998.2 509.5h1.4M993.3 503.2v1.4M993.3 514.4v1.4" stroke="#c04000" stroke-width="1"/>
<circle cx="999.3" cy="508.3" r="5.0" fill="none" stroke="#c04000" stroke-width="1.3"/><path d="M993.0 508.3h1.4M1004.2 508.3h1.4M999.3 502.0v1.4M999.3 513.2v1.4" stroke="#c04000" stroke-width="1"/>
<circle cx="1045.5" cy="507.0" r="5.0" fill="none" stroke="#c04000" stroke-width="1.3"/><path d="M1039.2 507.0h1.4M1050.4 507.0h1.4M1045.5 500.7v1.4M1045.5 511.9v1.4" stroke="#c04000" stroke-width="1"/>
<circle cx="1052.0" cy="509.5" r="5.0" fill="none" stroke="#c04000" stroke-width="1.3"/><path d="M1045.7 509.5h1.4M1056.9 509.5h1.4M1052.0 503.2v1.4M1052.0 514.4v1.4" stroke="#c04000" stroke-width="1"/>
<circle cx="1098.5" cy="437.4" r="5.0" fill="none" stroke="#c04000" stroke-width="1.3"/><path d="M1092.2 437.4h1.4M1103.4 437.4h1.4M1098.5 431.1v1.4M1098.5 442.3v1.4" stroke="#c04000" stroke-width="1"/>
<circle cx="1104.5" cy="513.3" r="5.0" fill="none" stroke="#c04000" stroke-width="1.3"/><path d="M1098.2 513.3h1.4M1109.4 513.3h1.4M1104.5 507.0v1.4M1104.5 518.2v1.4" stroke="#c04000" stroke-width="1"/>
<circle cx="1151.0" cy="508.4" r="5.0" fill="none" stroke="#c04000" stroke-width="1.3"/><path d="M1144.7 508.4h1.4M1155.9 508.4h1.4M1151.0 502.1v1.4M1151.0 513.3v1.4" stroke="#c04000" stroke-width="1"/>
<circle cx="1157.6" cy="509.4" r="5.0" fill="none" stroke="#c04000" stroke-width="1.3"/><path d="M1151.3 509.4h1.4M1162.5 509.4h1.4M1157.6 503.1v1.4M1157.6 514.3v1.4" stroke="#c04000" stroke-width="1"/>
<circle cx="1203.4" cy="507.6" r="5.0" fill="none" stroke="#c04000" stroke-width="1.3"/><path d="M1197.1 507.6h1.4M1208.3 507.6h1.4M1203.4 501.3v1.4M1203.4 512.5v1.4" stroke="#c04000" stroke-width="1"/>
<circle cx="1210.0" cy="509.4" r="5.0" fill="none" stroke="#c04000" stroke-width="1.3"/><path d="M1203.7 509.4h1.4M1214.9 509.4h1.4M1210.0 503.1v1.4M1210.0 514.3v1.4" stroke="#c04000" stroke-width="1"/>
<circle cx="1256.4" cy="510.4" r="5.0" fill="none" stroke="#c04000" stroke-width="1.3"/><path d="M1250.1 510.4h1.4M1261.3 510.4h1.4M1256.4 504.1v1.4M1256.4 515.3v1.4" stroke="#c04000" stroke-width="1"/>
<circle cx="1262.4" cy="510.4" r="5.0" fill="none" stroke="#c04000" stroke-width="1.3"/><path d="M1256.1 510.4h1.4M1267.3 510.4h1.4M1262.4 504.1v1.4M1262.4 515.3v1.4" stroke="#c04000" stroke-width="1"/>
<circle cx="1309.0" cy="507.6" r="5.0" fill="none" stroke="#c04000" stroke-width="1.3"/><path d="M1302.7 507.6h1.4M1313.9 507.6h1.4M1309.0 501.3v1.4M1309.0 512.5v1.4" stroke="#c04000" stroke-width="1"/>
<circle cx="1315.6" cy="508.4" r="5.0" fill="none" stroke="#c04000" stroke-width="1.3"/><path d="M1309.3 508.4h1.4M1320.5 508.4h1.4M1315.6 502.1v1.4M1315.6 513.3v1.4" stroke="#c04000" stroke-width="1"/>
<circle cx="1362.4" cy="510.4" r="5.0" fill="none" stroke="#c04000" stroke-width="1.3"/><path d="M1356.1 510.4h1.4M1367.3 510.4h1.4M1362.4 504.1v1.4M1362.4 515.3v1.4" stroke="#c04000" stroke-width="1"/>
<path d="M1288 72.5H1345" stroke="#ff0000" stroke-width="1"/>
<path d="M1288 91.5H1345" stroke="#00c000" stroke-width="1"/>
<path d="M1288 110.5H1345" stroke="#0080ff" stroke-width="1"/>
<rect x="1310.5" y="123.5" width="12" height="12" fill="none" stroke="#c000ff" stroke-width="1.1"/>
<rect x="1310.2" y="142.2" width="12.6" height="12.6" fill="#00eeee"/>
<circle cx="1316.5" cy="167.5" r="5.0" fill="none" stroke="#c04000" stroke-width="1.3"/><path d="M1310.2 167.5h1.4M1321.4 167.5h1.4M1316.5 161.2v1.4M1316.5 172.4v1.4" stroke="#c04000" stroke-width="1"/>
<polygon points="1313.9,180.7 1319.1,180.7 1322.3,183.9 1322.3,189.1 1319.1,192.3 1313.9,192.3 1310.7,189.1 1310.7,183.9" fill="#c8c800"/><path d="M1309.7 186.5h1.2M1322.1 186.5h1.2M1316.5 179.7v1.2M1316.5 192.1v1.2" stroke="#c8c800" stroke-width="1"/>
<polygon points="1316.5,198.9 1325.0,211.4 1308.0,211.4" fill="none" stroke="#4169e1" stroke-width="1.1"/>
<polygon points="1316.5,217.9 1325.0,230.4 1308.0,230.4" fill="#ffc020"/>
<path d="M1310.0 243.5h13M1316.5 237.0v13" stroke="#008040" stroke-width="1.2"/>
<polygon points="1308.3,256.7 1324.7,256.7 1316.5,269.1" fill="none" stroke="#c080ff" stroke-width="1.1"/>
<polygon points="1308.3,275.7 1324.7,275.7 1316.5,288.1" fill="none" stroke="#306080" stroke-width="1.1"/>
</g>
<rect x="101.5" y="57.5" width="1265.0" height="482" fill="none" stroke="#000" stroke-width="1" shape-rendering="crispEdges"/>
</svg>
</body></html>
